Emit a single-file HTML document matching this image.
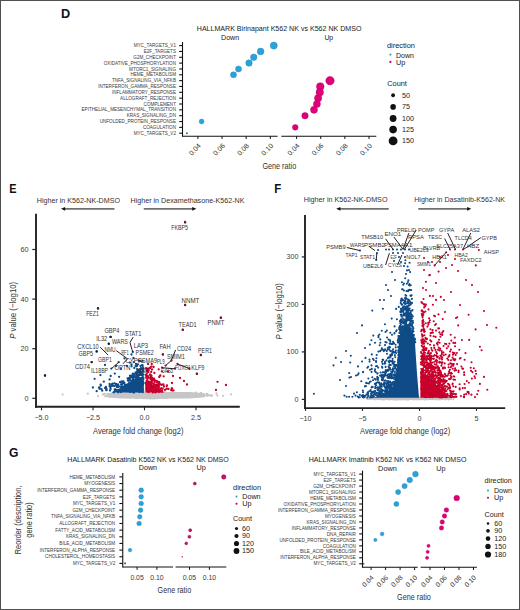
<!DOCTYPE html>
<html><head><meta charset="utf-8"><style>
html,body{margin:0;padding:0;background:#fff;overflow:hidden;width:520px;height:610px;}
svg{display:block;font-family:"Liberation Sans", sans-serif;}
</style></head><body>
<svg width="520" height="610" viewBox="0 0 520 610">
<rect x="0" y="0" width="520" height="610" fill="#fff"/>
<text x="60.90" y="18.20" font-size="12" fill="#111" textLength="9.20" lengthAdjust="spacingAndGlyphs" font-weight="bold">D</text>
<text x="9.20" y="192.60" font-size="12" fill="#111" textLength="7.30" lengthAdjust="spacingAndGlyphs" font-weight="bold">E</text>
<text x="274.20" y="192.60" font-size="12" fill="#111" textLength="7.00" lengthAdjust="spacingAndGlyphs" font-weight="bold">F</text>
<text x="9.00" y="457.20" font-size="12" fill="#111" textLength="9.40" lengthAdjust="spacingAndGlyphs" font-weight="bold">G</text>
<text x="196.80" y="30.80" font-size="7.07" fill="#1a1a1a" textLength="164.60" lengthAdjust="spacingAndGlyphs">HALLMARK Birinapant K562 NK vs K562 NK DMSO</text>
<text x="221.00" y="39.60" font-size="7.0" fill="#1a1a1a" textLength="18.20" lengthAdjust="spacingAndGlyphs">Down</text>
<text x="324.40" y="39.60" font-size="7.0" fill="#1a1a1a" textLength="8.80" lengthAdjust="spacingAndGlyphs">Up</text>
<text x="176.00" y="47.25" font-size="4.6" fill="#3a3a3a" text-anchor="end">MYC_TARGETS_V1</text>
<line x1="179.20" y1="45.60" x2="182.50" y2="45.60" stroke="#111" stroke-width="1.1"/>
<text x="176.00" y="53.09" font-size="4.6" fill="#3a3a3a" text-anchor="end">E2F_TARGETS</text>
<line x1="179.20" y1="51.44" x2="182.50" y2="51.44" stroke="#111" stroke-width="1.1"/>
<text x="176.00" y="58.93" font-size="4.6" fill="#3a3a3a" text-anchor="end">G2M_CHECKPOINT</text>
<line x1="179.20" y1="57.28" x2="182.50" y2="57.28" stroke="#111" stroke-width="1.1"/>
<text x="176.00" y="64.77" font-size="4.6" fill="#3a3a3a" text-anchor="end">OXIDATIVE_PHOSPHORYLATION</text>
<line x1="179.20" y1="63.12" x2="182.50" y2="63.12" stroke="#111" stroke-width="1.1"/>
<text x="176.00" y="70.61" font-size="4.6" fill="#3a3a3a" text-anchor="end">MTORC1_SIGNALING</text>
<line x1="179.20" y1="68.96" x2="182.50" y2="68.96" stroke="#111" stroke-width="1.1"/>
<text x="176.00" y="76.45" font-size="4.6" fill="#3a3a3a" text-anchor="end">HEME_METABOLISM</text>
<line x1="179.20" y1="74.80" x2="182.50" y2="74.80" stroke="#111" stroke-width="1.1"/>
<text x="176.00" y="82.29" font-size="4.6" fill="#3a3a3a" text-anchor="end">TNFA_SIGNALING_VIA_NFKB</text>
<line x1="179.20" y1="80.64" x2="182.50" y2="80.64" stroke="#111" stroke-width="1.1"/>
<text x="176.00" y="88.13" font-size="4.6" fill="#3a3a3a" text-anchor="end">INTERFERON_GAMMA_RESPONSE</text>
<line x1="179.20" y1="86.48" x2="182.50" y2="86.48" stroke="#111" stroke-width="1.1"/>
<text x="176.00" y="93.97" font-size="4.6" fill="#3a3a3a" text-anchor="end">INFLAMMATORY_RESPONSE</text>
<line x1="179.20" y1="92.32" x2="182.50" y2="92.32" stroke="#111" stroke-width="1.1"/>
<text x="176.00" y="99.81" font-size="4.6" fill="#3a3a3a" text-anchor="end">ALLOGRAFT_REJECTION</text>
<line x1="179.20" y1="98.16" x2="182.50" y2="98.16" stroke="#111" stroke-width="1.1"/>
<text x="176.00" y="105.65" font-size="4.6" fill="#3a3a3a" text-anchor="end">COMPLEMENT</text>
<line x1="179.20" y1="104.00" x2="182.50" y2="104.00" stroke="#111" stroke-width="1.1"/>
<text x="176.00" y="111.49" font-size="4.6" fill="#3a3a3a" text-anchor="end">EPITHELIAL_MESENCHYMAL_TRANSITION</text>
<line x1="179.20" y1="109.84" x2="182.50" y2="109.84" stroke="#111" stroke-width="1.1"/>
<text x="176.00" y="117.33" font-size="4.6" fill="#3a3a3a" text-anchor="end">KRAS_SIGNALING_DN</text>
<line x1="179.20" y1="115.68" x2="182.50" y2="115.68" stroke="#111" stroke-width="1.1"/>
<text x="176.00" y="123.17" font-size="4.6" fill="#3a3a3a" text-anchor="end">UNFOLDED_PROTEIN_RESPONSE</text>
<line x1="179.20" y1="121.52" x2="182.50" y2="121.52" stroke="#111" stroke-width="1.1"/>
<text x="176.00" y="129.01" font-size="4.6" fill="#3a3a3a" text-anchor="end">COAGULATION</text>
<line x1="179.20" y1="127.36" x2="182.50" y2="127.36" stroke="#111" stroke-width="1.1"/>
<text x="176.00" y="134.85" font-size="4.6" fill="#3a3a3a" text-anchor="end">MYC_TARGETS_V2</text>
<line x1="179.20" y1="133.20" x2="182.50" y2="133.20" stroke="#111" stroke-width="1.1"/>
<line x1="182.50" y1="42.00" x2="182.50" y2="136.75" stroke="#111" stroke-width="1.1"/>
<line x1="182.50" y1="136.20" x2="277.60" y2="136.20" stroke="#111" stroke-width="1.1"/>
<line x1="281.30" y1="136.20" x2="376.30" y2="136.20" stroke="#111" stroke-width="1.1"/>
<line x1="197.90" y1="136.20" x2="197.90" y2="139.00" stroke="#111" stroke-width="1.0"/>
<text x="201.30" y="146.30" font-size="7.0" fill="#333" text-anchor="end" transform="rotate(-45 201.30 146.30)">0.04</text>
<line x1="222.04" y1="136.20" x2="222.04" y2="139.00" stroke="#111" stroke-width="1.0"/>
<text x="225.44" y="146.30" font-size="7.0" fill="#333" text-anchor="end" transform="rotate(-45 225.44 146.30)">0.06</text>
<line x1="246.18" y1="136.20" x2="246.18" y2="139.00" stroke="#111" stroke-width="1.0"/>
<text x="249.58" y="146.30" font-size="7.0" fill="#333" text-anchor="end" transform="rotate(-45 249.58 146.30)">0.08</text>
<line x1="270.32" y1="136.20" x2="270.32" y2="139.00" stroke="#111" stroke-width="1.0"/>
<text x="273.72" y="146.30" font-size="7.0" fill="#333" text-anchor="end" transform="rotate(-45 273.72 146.30)">0.10</text>
<line x1="296.60" y1="136.20" x2="296.60" y2="139.00" stroke="#111" stroke-width="1.0"/>
<text x="300.00" y="146.30" font-size="7.0" fill="#333" text-anchor="end" transform="rotate(-45 300.00 146.30)">0.04</text>
<line x1="320.74" y1="136.20" x2="320.74" y2="139.00" stroke="#111" stroke-width="1.0"/>
<text x="324.14" y="146.30" font-size="7.0" fill="#333" text-anchor="end" transform="rotate(-45 324.14 146.30)">0.06</text>
<line x1="344.88" y1="136.20" x2="344.88" y2="139.00" stroke="#111" stroke-width="1.0"/>
<text x="348.28" y="146.30" font-size="7.0" fill="#333" text-anchor="end" transform="rotate(-45 348.28 146.30)">0.08</text>
<line x1="369.02" y1="136.20" x2="369.02" y2="139.00" stroke="#111" stroke-width="1.0"/>
<text x="372.42" y="146.30" font-size="7.0" fill="#333" text-anchor="end" transform="rotate(-45 372.42 146.30)">0.10</text>
<circle cx="273.80" cy="45.60" r="3.55" fill="#29a3dc" stroke="#1e7fae" stroke-width="0.4"/>
<circle cx="260.60" cy="51.44" r="3.35" fill="#29a3dc" stroke="#1e7fae" stroke-width="0.4"/>
<circle cx="253.75" cy="57.28" r="3.25" fill="#29a3dc" stroke="#1e7fae" stroke-width="0.4"/>
<circle cx="249.00" cy="63.12" r="3.25" fill="#29a3dc" stroke="#1e7fae" stroke-width="0.4"/>
<circle cx="238.50" cy="68.96" r="3.05" fill="#29a3dc" stroke="#1e7fae" stroke-width="0.4"/>
<circle cx="233.50" cy="74.80" r="3.05" fill="#29a3dc" stroke="#1e7fae" stroke-width="0.4"/>
<circle cx="201.60" cy="121.52" r="2.45" fill="#29a3dc" stroke="#1e7fae" stroke-width="0.4"/>
<circle cx="186.90" cy="133.20" r="1.05" fill="#3d7f86"/>
<circle cx="330.00" cy="80.64" r="4.25" fill="#e2007a" stroke="#a8005a" stroke-width="0.4"/>
<circle cx="320.25" cy="86.48" r="3.85" fill="#e2007a" stroke="#a8005a" stroke-width="0.4"/>
<circle cx="319.75" cy="92.32" r="3.75" fill="#e2007a" stroke="#a8005a" stroke-width="0.4"/>
<circle cx="318.10" cy="98.16" r="3.65" fill="#e2007a" stroke="#a8005a" stroke-width="0.4"/>
<circle cx="316.90" cy="104.00" r="3.55" fill="#e2007a" stroke="#a8005a" stroke-width="0.4"/>
<circle cx="314.00" cy="109.84" r="3.55" fill="#e2007a" stroke="#a8005a" stroke-width="0.4"/>
<circle cx="305.00" cy="115.68" r="3.25" fill="#e2007a" stroke="#a8005a" stroke-width="0.4"/>
<circle cx="295.25" cy="127.36" r="2.85" fill="#e2007a" stroke="#a8005a" stroke-width="0.4"/>
<text x="262.40" y="169.30" font-size="9.6" fill="#333" textLength="33.80" lengthAdjust="spacingAndGlyphs">Gene ratio</text>
<text x="386.90" y="47.90" font-size="7.3" fill="#1a1a1a" textLength="28.10" lengthAdjust="spacingAndGlyphs">direction</text>
<circle cx="390.40" cy="54.60" r="1.10" fill="#29a3dc"/>
<circle cx="390.40" cy="61.90" r="1.10" fill="#c0006a"/>
<text x="396.00" y="57.60" font-size="7.3" fill="#1a1a1a" textLength="18.00" lengthAdjust="spacingAndGlyphs">Down</text>
<text x="396.00" y="64.70" font-size="7.3" fill="#1a1a1a">Up</text>
<text x="387.25" y="86.00" font-size="7.3" fill="#1a1a1a" textLength="19.60" lengthAdjust="spacingAndGlyphs">Count</text>
<circle cx="393.10" cy="95.25" r="1.90" fill="#111"/>
<text x="401.90" y="97.60" font-size="7.2" fill="#1a1a1a">50</text>
<circle cx="393.10" cy="106.90" r="2.80" fill="#111"/>
<text x="401.90" y="109.40" font-size="7.2" fill="#1a1a1a">75</text>
<circle cx="393.10" cy="118.50" r="3.40" fill="#111"/>
<text x="401.90" y="121.20" font-size="7.2" fill="#1a1a1a">100</text>
<circle cx="393.10" cy="129.60" r="3.80" fill="#111"/>
<text x="401.90" y="132.40" font-size="7.2" fill="#1a1a1a">125</text>
<circle cx="393.10" cy="140.90" r="4.40" fill="#111"/>
<text x="401.90" y="143.40" font-size="7.2" fill="#1a1a1a">150</text>
<text x="36.75" y="202.50" font-size="7.1" fill="#333" textLength="83.25" lengthAdjust="spacingAndGlyphs">Higher in K562-NK-DMSO</text>
<text x="130.50" y="202.50" font-size="7.1" fill="#333" textLength="114.00" lengthAdjust="spacingAndGlyphs">Higher in Dexamethasone-K562-NK</text>
<line x1="114.50" y1="208.80" x2="64.50" y2="208.80" stroke="#707070" stroke-width="1.8"/>
<path d="M61.00 208.80L65.20 206.90L65.20 210.70Z" fill="#111"/>
<line x1="143.75" y1="208.80" x2="192.90" y2="208.80" stroke="#707070" stroke-width="1.8"/>
<path d="M196.40 208.80L192.20 206.90L192.20 210.70Z" fill="#111"/>
<path d="M108.0 393.2L120.0 392.0L190.0 392.0L205.0 393.3L205.0 397.3L190.0 398.4L120.0 398.4L108.0 397.3Z" fill="#c6c6c8"/>
<path d="M123.1 397.0h0M158.3 395.0h0M120.8 393.9h0M148.6 395.3h0M123.3 393.5h0M121.6 394.4h0M183.7 395.9h0M171.6 393.0h0M206.6 395.5h0M143.6 395.9h0M152.1 395.4h0M153.2 392.4h0M156.0 392.3h0M165.2 395.0h0M110.6 395.3h0M165.4 395.9h0M117.6 395.0h0M150.0 393.7h0M148.9 397.4h0M145.0 393.5h0M131.5 394.2h0M183.9 394.8h0M166.0 397.0h0M108.1 396.2h0M186.2 393.5h0M162.1 395.0h0M196.8 396.4h0M143.2 396.0h0M155.1 396.9h0M148.8 394.1h0M159.3 397.9h0M150.6 393.5h0M139.0 393.0h0M186.5 394.1h0M164.4 395.5h0M136.5 396.5h0M154.6 392.9h0M143.2 394.7h0M141.4 393.5h0M142.7 397.0h0M208.1 394.9h0M161.3 394.6h0M140.0 397.2h0M143.6 398.2h0M142.1 393.5h0M148.0 394.1h0M187.8 394.5h0M158.6 395.7h0M154.3 393.6h0M132.9 395.0h0M137.4 397.7h0M121.4 396.7h0M152.9 393.2h0M177.3 396.5h0M189.6 394.4h0M163.3 397.6h0M183.5 394.1h0M193.3 395.5h0M136.0 394.8h0M154.9 398.1h0M153.8 393.6h0M145.2 397.2h0M133.7 395.7h0M146.3 396.6h0M163.2 392.9h0M153.8 397.4h0M177.9 395.7h0M140.7 393.5h0M198.2 394.1h0M147.1 392.4h0M173.7 393.7h0M130.5 393.4h0M171.0 394.5h0M197.8 395.6h0M110.9 395.8h0M139.6 392.6h0M143.9 392.3h0M178.9 397.1h0M131.7 392.8h0M133.4 396.4h0M130.9 394.3h0M158.7 395.5h0M150.0 396.8h0M179.1 396.0h0M128.9 396.6h0M167.6 396.1h0M139.6 397.5h0M165.8 396.7h0M133.4 397.1h0M122.4 394.7h0M136.4 395.6h0M143.0 396.0h0M144.3 398.2h0M175.9 394.7h0M125.7 396.2h0M129.3 396.8h0M138.5 392.9h0M150.0 395.9h0M144.6 395.1h0M154.2 395.2h0M183.8 395.6h0M164.8 392.6h0M141.9 394.0h0M143.5 393.2h0M136.7 397.4h0M137.3 397.3h0M129.9 394.4h0M142.6 394.8h0M137.4 396.9h0M188.9 394.8h0M126.7 395.6h0M145.2 395.2h0M160.9 397.1h0M170.2 397.4h0M121.8 394.3h0M161.7 393.9h0M171.0 393.8h0M123.6 395.2h0M165.9 394.2h0M183.1 395.0h0M155.0 397.5h0M152.5 392.3h0M142.6 394.1h0M122.4 396.4h0M161.8 394.9h0M151.4 392.1h0M157.8 393.1h0M135.8 392.8h0M133.5 395.9h0M132.6 396.0h0M169.6 396.1h0M157.8 393.3h0M173.7 393.0h0M115.7 394.1h0M156.1 393.8h0M130.8 395.3h0M178.0 395.7h0M150.9 397.1h0M128.0 397.1h0M193.6 395.8h0M176.6 393.6h0M120.5 396.8h0M158.9 394.5h0M108.9 396.1h0M131.0 397.4h0M118.9 394.1h0M157.2 396.5h0M163.1 396.4h0M121.3 394.0h0M199.9 396.3h0M113.7 395.3h0M154.9 397.7h0M131.3 397.0h0M144.7 394.8h0M157.4 395.5h0M152.9 392.2h0M124.7 396.6h0M186.3 394.1h0M165.5 394.3h0M152.9 393.0h0M138.2 395.3h0M143.0 396.3h0M108.5 396.5h0M152.5 392.6h0M154.8 393.9h0M176.5 396.2h0M132.8 396.9h0M129.5 395.5h0M141.9 397.2h0M170.0 397.1h0M161.1 397.8h0M191.4 395.3h0M136.8 395.4h0M143.5 395.2h0M145.9 398.1h0M146.8 395.3h0M117.9 395.4h0M173.1 395.2h0M147.1 395.4h0M142.4 394.7h0M198.1 394.7h0M136.6 395.1h0M166.4 396.8h0M166.8 397.3h0M131.0 393.7h0M152.8 395.9h0M160.3 396.8h0M144.8 392.3h0M155.4 396.3h0M164.8 394.3h0M131.2 393.2h0M174.1 396.2h0M168.9 394.0h0M168.3 393.7h0M126.9 394.6h0M145.5 394.7h0M137.2 393.6h0M147.6 396.0h0M132.6 397.0h0M129.3 395.7h0M160.0 396.6h0M137.5 396.9h0M165.7 394.2h0M139.0 397.6h0M165.7 397.2h0M160.8 396.5h0M162.1 393.9h0M184.1 394.9h0M173.8 396.5h0M165.7 396.2h0M165.9 392.7h0M160.1 397.5h0M181.7 397.0h0M169.5 396.5h0M167.3 395.2h0M144.4 392.6h0M136.9 393.1h0M177.1 395.3h0M156.5 395.6h0M158.5 393.5h0M161.2 397.1h0M200.2 394.3h0M146.9 392.4h0M173.4 396.4h0M142.6 394.2h0M124.1 394.9h0M155.5 395.8h0M184.1 396.4h0M152.8 393.2h0M115.4 394.9h0M160.3 393.5h0M163.4 392.6h0M172.7 397.0h0M161.0 397.2h0M117.4 395.7h0M125.4 395.2h0M166.8 397.7h0M155.7 397.7h0M134.0 396.5h0M157.1 394.6h0M110.2 396.4h0M174.7 396.4h0M126.8 396.4h0M120.8 393.5h0M169.7 394.4h0M146.9 394.3h0M150.6 396.1h0M138.6 397.7h0M138.8 396.1h0M133.1 395.6h0M177.5 395.3h0M210.0 395.4h0M138.8 397.9h0M114.5 393.5h0M123.0 394.2h0M126.1 394.8h0M163.8 394.5h0M154.5 392.7h0M149.7 395.5h0M197.8 395.2h0M177.9 397.3h0M144.2 396.0h0M153.2 395.8h0M141.8 396.7h0M198.7 394.4h0M164.2 395.0h0M162.5 395.8h0M172.5 393.2h0M171.6 395.3h0M142.3 395.8h0M138.0 396.1h0M163.5 395.5h0M142.7 394.0h0M184.2 393.5h0M150.2 392.9h0M156.5 396.7h0M113.8 396.0h0M179.9 393.4h0M202.8 394.4h0M146.3 397.7h0M127.3 397.4h0M160.7 393.8h0M142.4 396.5h0M162.1 397.0h0M141.3 395.9h0M143.4 394.9h0M152.1 395.4h0M156.9 392.9h0M119.4 395.0h0M161.5 393.9h0M130.0 396.5h0M138.7 395.4h0M204.3 395.6h0M149.2 393.5h0M185.1 396.2h0M180.5 395.7h0M138.9 396.2h0M163.5 395.6h0M123.9 396.3h0M133.0 393.6h0M150.4 397.9h0M211.4 395.8h0M157.6 393.8h0M151.9 394.7h0M142.7 395.4h0M142.8 392.6h0M178.3 395.4h0M167.1 395.9h0M132.5 393.7h0M168.0 394.4h0M148.6 392.4h0M108.0 394.1h0M161.2 396.7h0M121.3 394.0h0M134.9 396.8h0M157.8 394.4h0M112.3 394.6h0M115.3 396.7h0M139.0 394.8h0M143.2 397.5h0M157.3 392.7h0M174.6 395.1h0M164.1 396.2h0M138.5 392.8h0M186.2 394.2h0M145.2 394.0h0M142.3 396.5h0M143.8 393.0h0M133.2 394.5h0M146.8 392.8h0M129.2 396.2h0M105.3 396.4h0M129.2 397.2h0M113.3 394.5h0M165.1 394.2h0M108.5 396.4h0M180.3 394.2h0M136.5 394.5h0M166.0 394.7h0M139.0 395.6h0M159.4 396.9h0M109.5 395.4h0M139.4 393.4h0M152.6 393.8h0M104.7 394.0h0M122.6 395.5h0M147.3 398.2h0M126.9 393.2h0M117.7 395.4h0M152.2 392.5h0M141.0 396.6h0M157.5 396.0h0M144.5 393.0h0M149.2 393.5h0M118.2 394.1h0M152.6 396.9h0M123.4 394.8h0M119.7 395.9h0M199.2 395.2h0M115.8 395.9h0M141.8 397.6h0M115.2 395.8h0M171.9 396.9h0M164.3 397.3h0M110.9 396.6h0M133.0 396.3h0M129.3 396.6h0M129.8 393.5h0M160.9 396.6h0M171.3 393.6h0M148.8 393.3h0M133.7 397.6h0M158.3 392.6h0M146.1 396.1h0M160.1 396.8h0M153.4 394.9h0M157.1 395.7h0M155.0 392.8h0M146.8 393.2h0M153.3 396.6h0M165.8 395.7h0M152.3 393.8h0M163.9 393.4h0M150.9 395.5h0M131.0 396.8h0M133.1 397.2h0M152.2 397.9h0M134.9 397.6h0M173.2 395.1h0M151.3 398.1h0M156.9 397.0h0M129.8 395.3h0M167.8 394.1h0M182.1 394.2h0M148.0 392.1h0M129.1 396.6h0M153.6 396.5h0M139.9 393.2h0M142.0 394.1h0M147.4 395.3h0M194.3 395.6h0M167.3 395.4h0M149.3 392.9h0M150.1 397.3h0M148.9 397.5h0M154.0 393.8h0M141.8 396.5h0M170.6 395.1h0M164.4 397.6h0M112.9 394.5h0M127.5 396.5h0M107.5 394.0h0M174.4 396.7h0M157.1 395.4h0M176.6 393.7h0M159.4 394.1h0M133.5 393.0h0M141.5 396.5h0M173.2 394.6h0M146.0 394.5h0M140.4 395.0h0M190.5 395.7h0M141.5 392.3h0M125.2 394.0h0M174.1 395.5h0M146.9 398.3h0M150.8 397.2h0M158.2 394.0h0M179.3 394.7h0M132.1 394.4h0M145.4 394.5h0M141.5 393.4h0M135.3 396.4h0M124.6 395.5h0M196.5 395.8h0M129.8 393.2h0M185.9 394.0h0M177.5 396.1h0M168.5 393.6h0M115.8 395.5h0M174.1 393.4h0M151.9 392.8h0M162.7 394.7h0M194.4 395.0h0M171.8 395.3h0M127.4 396.7h0M120.0 394.7h0M138.9 392.5h0M169.8 394.7h0M130.7 396.6h0M133.9 392.7h0M124.5 394.5h0M132.5 393.2h0M176.7 394.7h0M111.3 396.2h0M147.7 395.9h0M170.4 397.1h0M181.5 395.4h0M134.4 393.3h0M170.7 396.2h0M176.4 396.1h0M147.8 397.3h0M167.3 395.8h0M200.1 394.5h0M164.3 395.6h0M158.2 396.4h0M125.8 394.6h0M194.5 395.1h0M192.2 394.1h0M191.7 396.4h0M122.8 395.5h0M142.4 393.8h0M207.7 395.7h0M113.1 395.5h0M179.5 394.4h0M178.6 396.8h0M151.6 397.3h0M178.7 393.9h0M141.6 392.5h0M147.4 393.2h0M201.9 395.5h0M145.8 394.0h0M132.9 394.6h0M118.3 395.6h0M151.3 393.3h0M146.2 395.0h0M163.5 395.6h0M167.0 393.5h0M132.9 395.5h0M147.9 394.1h0M146.2 396.3h0M145.2 393.0h0M178.8 395.1h0M142.5 394.7h0M126.0 396.4h0M126.4 396.3h0M156.3 397.2h0M163.8 394.8h0M132.2 395.5h0M172.3 395.3h0M134.9 394.8h0M166.0 392.9h0M139.1 396.5h0M178.9 395.6h0M129.0 396.4h0M140.0 392.7h0M177.8 393.6h0M125.4 394.7h0M158.5 392.6h0M140.9 393.7h0M124.7 394.4h0M137.2 392.8h0M159.8 397.6h0M181.8 396.6h0M143.2 394.7h0M155.3 396.7h0M135.4 395.6h0M158.2 396.9h0M144.3 392.9h0M137.4 392.5h0M150.7 394.1h0M168.5 393.0h0M182.0 394.8h0M125.2 394.6h0M144.2 392.3h0M146.5 397.7h0M140.8 397.7h0M174.2 397.3h0M135.3 394.1h0M152.6 397.9h0M161.6 397.1h0M141.2 394.3h0M136.7 397.3h0M152.3 398.4h0M159.2 393.4h0M179.7 396.7h0M159.9 396.5h0M153.2 394.0h0M186.0 395.9h0M124.0 393.6h0M132.7 394.9h0M163.8 394.2h0M157.4 396.5h0M154.6 393.6h0M163.1 396.1h0M155.3 396.2h0M129.4 397.0h0M136.6 394.1h0M141.5 397.7h0M141.2 396.0h0M134.6 393.0h0M173.6 395.3h0M147.5 395.4h0M178.6 394.3h0M158.4 393.7h0M153.1 393.8h0M141.1 396.7h0M150.5 395.5h0M167.8 393.6h0M202.1 394.3h0M110.7 395.1h0M150.1 398.0h0M128.3 395.2h0M162.0 396.0h0M175.4 394.6h0M129.0 395.3h0M117.8 395.2h0M168.8 395.3h0M122.4 397.1h0M167.6 393.5h0M184.0 395.6h0M152.2 396.9h0M173.6 396.5h0M154.1 395.1h0M134.4 393.7h0M127.3 393.1h0M137.5 395.7h0M143.7 397.5h0M122.0 393.9h0M152.4 395.2h0M153.4 394.8h0M134.0 396.7h0M156.2 392.6h0M173.8 395.4h0M134.3 396.7h0M150.9 394.0h0M162.3 392.7h0M137.9 395.3h0M178.2 394.2h0M142.0 397.1h0M145.0 393.2h0M149.6 396.5h0M163.0 397.0h0M151.8 394.6h0M142.4 394.4h0M162.3 392.7h0M207.1 395.2h0M154.6 393.0h0M115.1 393.6h0M160.1 393.7h0M159.4 394.6h0M142.3 394.0h0M142.2 392.4h0M154.0 398.3h0M153.0 393.5h0M114.3 394.3h0M134.5 395.0h0M144.8 397.9h0M136.9 397.8h0M165.0 395.8h0M171.7 395.9h0M155.5 392.5h0M131.3 397.0h0M178.2 395.6h0M168.5 394.7h0M133.9 397.0h0M121.8 394.0h0M176.1 394.5h0M161.3 393.3h0M175.4 393.9h0M155.5 394.0h0M174.1 395.0h0M183.1 396.5h0M148.6 393.3h0M143.7 396.4h0M155.7 394.4h0M149.3 393.1h0M154.2 393.7h0M111.0 395.9h0M181.1 394.3h0M141.8 397.8h0M159.7 394.4h0M153.5 397.8h0M114.9 393.5h0M140.5 392.8h0M169.5 397.1h0M132.8 395.3h0M183.6 393.6h0M137.2 392.7h0M160.0 393.2h0M145.4 394.0h0M146.8 394.7h0M138.6 396.4h0M146.8 393.7h0M145.0 393.0h0M117.8 394.1h0M143.4 394.6h0M184.1 394.8h0M160.5 394.0h0M138.3 394.3h0M151.4 392.1h0M156.2 396.0h0M113.4 396.8h0M133.9 394.2h0M126.4 393.9h0M106.7 395.7h0M122.6 396.7h0M153.0 392.6h0M181.0 394.9h0M144.0 394.5h0M154.8 394.1h0M132.2 393.5h0M150.3 394.6h0M136.9 396.1h0M152.1 393.5h0M166.8 394.8h0M161.1 393.2h0M120.3 395.4h0M133.0 396.2h0M171.7 394.6h0M153.2 392.4h0M143.9 395.2h0M154.2 395.7h0M130.8 394.0h0M153.8 392.2h0M123.4 395.5h0M188.0 394.4h0M143.0 395.0h0M137.7 395.8h0M170.0 395.6h0M144.1 397.9h0M154.2 396.0h0M119.4 394.9h0M134.7 396.9h0M158.9 397.4h0M114.5 393.6h0M182.6 393.8h0M131.1 394.5h0M149.2 398.3h0M158.5 393.6h0M161.6 396.2h0M150.1 395.5h0M150.9 394.5h0M151.7 396.2h0M175.6 395.4h0M130.0 396.8h0M130.1 397.5h0M139.8 397.4h0M167.6 394.3h0M142.8 396.3h0M116.9 396.9h0M155.8 395.9h0M138.4 395.1h0M130.5 394.2h0M141.8 396.7h0M134.2 393.9h0M146.6 394.1h0M161.6 393.1h0M173.7 393.2h0M159.3 396.4h0M154.3 392.8h0M113.9 395.1h0M161.3 393.3h0M179.6 393.4h0M116.9 394.3h0M110.8 394.9h0M148.2 396.6h0M149.6 394.1h0M184.9 394.6h0M152.5 397.3h0M107.8 395.4h0M119.7 395.7h0M166.5 396.9h0M153.6 394.4h0M139.2 396.2h0M151.7 392.1h0M164.0 395.7h0M204.4 394.5h0M128.9 396.1h0M122.8 394.8h0M165.1 397.5h0M156.9 396.5h0M149.5 392.7h0M167.4 396.4h0M154.8 398.3h0M164.3 392.7h0M163.5 395.4h0M128.8 394.3h0M152.3 397.1h0M159.5 394.6h0M134.7 395.8h0M156.0 394.5h0M140.5 396.9h0M124.0 393.7h0M154.7 397.9h0M159.3 393.8h0M138.9 394.2h0M150.8 392.1h0M138.8 395.9h0M145.1 393.8h0M153.5 394.4h0M175.0 394.1h0M157.6 397.5h0M152.5 394.0h0M162.3 395.1h0M156.6 398.2h0M163.1 395.1h0M192.2 395.0h0M157.7 392.6h0M129.3 395.4h0M133.0 394.1h0M124.4 397.1h0M196.6 395.1h0M167.7 393.6h0M119.4 393.3h0M155.4 392.6h0M159.7 394.4h0M150.4 395.3h0M131.1 392.8h0M163.8 392.6h0M203.9 395.3h0M164.4 396.5h0M113.7 394.9h0M163.5 396.6h0M111.0 396.7h0M193.5 394.9h0M181.9 396.0h0M149.9 392.1h0M198.2 395.4h0M153.1 394.4h0M171.6 395.9h0M157.8 396.0h0M130.6 394.5h0M141.3 394.2h0M196.9 394.2h0M131.6 393.8h0M181.2 396.1h0M118.2 394.0h0M140.5 392.9h0M162.7 394.8h0M166.0 392.7h0M127.6 394.4h0M149.6 395.4h0M164.2 397.2h0M145.6 394.1h0M150.3 398.4h0M139.5 394.8h0M165.1 394.7h0M146.4 396.5h0M157.7 396.2h0M165.8 397.5h0M143.9 394.3h0M162.6 397.9h0M168.6 394.6h0M175.0 395.8h0M157.1 397.5h0M179.6 396.6h0M132.0 395.5h0M131.1 393.3h0M167.6 395.0h0M121.3 395.9h0M131.0 393.9h0M160.5 395.8h0M126.2 393.1h0M138.3 395.9h0M122.1 395.6h0M159.7 397.7h0M164.3 397.8h0M170.2 396.3h0M136.1 397.8h0M183.2 394.8h0M157.7 398.1h0M141.5 395.1h0M154.2 396.1h0M191.9 396.5h0M168.8 395.3h0M115.5 397.0h0M190.8 395.8h0M167.6 393.9h0M158.5 395.4h0M127.3 396.9h0M155.9 396.1h0M166.8 393.0h0M113.6 395.2h0M136.9 393.8h0M163.4 396.7h0M108.9 395.3h0M182.6 393.9h0M128.1 394.6h0M154.9 394.2h0M153.6 397.5h0M155.5 393.3h0M140.5 394.6h0M167.8 397.2h0M125.2 393.3h0M164.9 395.9h0M148.9 397.6h0M148.0 396.3h0M135.6 394.8h0M169.9 394.3h0M151.9 396.0h0M144.7 396.4h0M179.4 393.9h0M173.5 395.0h0M174.4 393.5h0M189.0 395.5h0M184.9 394.7h0M173.7 396.1h0M217.4 395.6h0M137.9 394.7h0M164.6 393.3h0M134.3 396.9h0M133.0 394.7h0M124.8 397.1h0M157.0 394.3h0M145.4 395.7h0M134.6 394.1h0M162.6 397.1h0M137.0 396.2h0M164.3 394.6h0M148.7 394.9h0M120.2 393.5h0M134.4 394.9h0M158.7 397.9h0M141.0 396.2h0M182.7 394.2h0M140.0 397.5h0M156.2 393.7h0M132.3 396.8h0M159.6 397.2h0M126.7 393.4h0M135.1 397.3h0M62.6 394.6h0M87.8 393.7h0M98.0 396.1h0M103.0 394.5h0M207.0 394.0h0M212.0 395.5h0M216.5 393.5h0M223.0 395.8h0M231.0 394.3h0M201.0 393.0h0M196.0 392.6h0" stroke="#c6c6c8" stroke-width="2.30" stroke-linecap="round" fill="none"/>
<path d="M111.0 392.5L118.0 389.5L125.0 385.5L131.0 381.5L136.0 378.5L140.0 377.0L143.8 377.5L143.8 392.5Z" fill="#0f4b87"/>
<path d="M123.3 388.2h0M132.9 382.3h0M140.5 391.7h0M133.0 386.4h0M142.8 392.1h0M143.6 383.1h0M138.2 387.1h0M134.0 392.5h0M124.2 387.2h0M118.2 392.3h0M131.4 388.5h0M119.3 389.6h0M135.0 389.0h0M142.0 390.9h0M128.6 385.3h0M136.5 380.8h0M129.3 384.1h0M138.9 378.6h0M138.9 379.4h0M142.8 385.1h0M124.3 386.5h0M139.3 391.9h0M135.1 388.0h0M120.9 392.0h0M132.1 390.1h0M114.7 391.2h0M132.5 390.7h0M142.0 385.8h0M127.4 391.0h0M135.2 381.0h0M129.0 383.2h0M135.6 384.6h0M130.5 391.9h0M131.0 386.1h0M127.9 388.7h0M137.1 383.6h0M139.2 383.2h0M113.8 392.3h0M138.3 382.1h0M121.4 389.7h0M136.9 387.0h0M129.1 391.4h0M141.6 388.7h0M135.2 383.5h0M133.3 392.2h0M141.1 378.2h0M136.6 383.8h0M135.7 382.9h0M132.9 385.5h0M121.2 391.8h0M129.4 391.3h0M128.6 390.0h0M133.1 391.4h0M127.2 387.7h0M123.7 389.1h0M130.4 385.1h0M138.6 382.6h0M130.1 384.4h0M143.2 382.1h0M133.9 380.6h0M141.6 380.3h0M116.0 384.8h0M114.3 386.1h0M131.0 386.7h0M122.0 386.5h0M133.8 390.6h0M127.7 384.4h0M133.4 378.1h0M143.3 371.7h0M135.6 388.2h0M117.8 387.2h0M137.7 381.7h0M138.6 389.9h0M135.1 386.7h0M140.9 385.7h0M136.3 375.9h0M136.9 383.2h0M123.5 381.4h0M141.4 388.5h0M121.1 390.2h0M137.5 390.0h0M128.5 387.2h0M135.0 386.1h0M111.0 385.7h0M143.5 378.1h0M140.1 373.6h0M140.0 370.7h0M131.0 383.3h0M141.5 372.8h0M129.7 384.1h0M136.5 388.3h0M136.3 388.2h0M127.0 387.7h0M130.0 384.3h0M123.1 388.6h0M111.3 385.7h0M105.9 387.0h0M130.1 387.9h0M141.6 375.1h0M124.9 387.9h0M124.6 386.1h0M136.5 378.3h0M138.9 371.5h0M102.2 390.7h0M139.9 388.7h0M138.0 372.1h0M135.6 390.8h0M140.1 374.9h0M139.3 383.5h0M139.1 370.2h0M121.8 390.8h0M139.4 383.9h0M125.2 385.4h0M120.0 382.2h0M132.8 383.3h0M141.7 374.6h0M132.2 386.3h0M143.4 374.7h0M136.6 380.9h0M142.9 379.0h0M122.0 382.1h0M139.8 374.9h0M129.9 390.1h0M120.8 390.8h0M106.7 390.1h0M131.5 390.0h0M123.9 386.5h0M141.0 383.3h0M125.7 390.2h0M128.3 378.9h0M100.8 385.5h0M138.3 372.0h0M114.5 383.3h0M112.2 383.8h0M131.0 383.8h0M120.7 386.9h0M142.1 365.1h0M112.7 384.0h0M130.8 388.5h0M99.0 387.7h0M135.5 372.7h0M130.0 387.7h0M141.8 378.9h0M121.0 384.4h0M135.0 377.1h0M126.8 389.5h0M139.1 374.4h0M134.8 381.6h0M140.3 373.0h0M128.5 386.4h0M142.2 371.6h0M122.9 389.7h0M138.6 375.9h0M132.2 380.4h0M139.7 386.2h0M118.3 386.9h0M118.1 384.3h0M129.8 379.9h0M99.3 387.5h0M117.1 385.5h0M99.5 387.6h0M116.0 383.8h0M136.2 378.3h0M114.7 389.3h0M133.3 384.2h0M133.9 386.6h0M112.5 383.7h0M138.8 380.1h0M138.9 389.1h0M139.2 371.8h0M133.9 390.3h0M110.0 390.5h0M122.1 382.2h0M110.6 389.0h0M133.0 376.8h0M139.8 383.6h0M123.3 390.5h0M125.1 384.7h0M137.5 376.1h0M137.3 389.8h0M133.7 379.9h0M138.8 370.2h0M139.7 370.9h0M133.4 383.1h0M122.2 388.5h0M138.0 381.1h0M136.9 375.6h0M141.2 368.1h0M133.0 389.8h0M116.7 386.8h0M135.4 383.0h0M130.6 380.6h0M131.4 382.8h0M99.5 388.8h0M132.7 377.9h0M127.8 390.3h0M139.8 385.5h0M143.0 374.7h0M133.9 376.8h0M140.3 384.8h0M142.7 370.1h0M140.2 386.3h0M118.8 386.1h0M143.4 368.3h0M129.1 377.8h0M142.1 371.8h0M131.5 382.9h0M132.4 385.0h0M137.0 388.7h0M128.9 385.3h0M125.1 384.7h0M132.9 380.0h0M132.9 390.0h0M137.1 388.0h0M136.0 381.6h0M136.7 390.7h0M141.0 384.2h0M133.4 378.2h0M134.9 390.1h0M138.5 375.6h0M122.2 384.2h0M128.7 385.1h0M105.1 388.0h0M142.8 374.2h0M123.6 383.0h0M143.3 379.2h0M130.7 377.5h0M129.5 383.9h0M119.3 390.7h0M140.7 373.6h0M136.8 387.0h0M141.0 372.2h0M129.0 380.8h0M116.8 390.2h0M125.6 385.7h0M143.1 389.5h0M124.0 383.1h0M142.3 386.8h0M127.9 380.5h0M143.2 369.4h0M128.0 390.7h0M117.0 390.3h0M131.5 386.6h0M115.6 389.4h0M140.1 386.7h0M133.5 379.3h0M142.1 365.6h0M105.4 388.0h0M126.9 386.1h0M118.4 390.2h0M121.2 381.7h0M133.4 385.4h0M106.2 390.2h0M112.9 385.8h0M133.2 387.0h0M119.4 390.9h0M137.2 385.5h0M137.4 371.8h0M123.9 388.6h0M122.0 389.7h0M106.5 388.7h0M126.3 384.8h0M131.6 375.9h0M133.0 377.2h0M140.0 382.9h0M131.7 387.5h0M136.5 377.7h0M124.3 382.8h0M134.1 385.6h0M120.8 390.4h0M124.6 390.0h0M109.5 386.1h0M120.9 390.6h0M136.5 386.6h0M136.6 381.6h0M131.6 383.1h0M110.5 387.7h0M136.0 381.0h0M143.1 369.1h0M130.6 384.8h0M142.7 366.1h0M128.4 378.4h0M130.7 390.2h0M127.1 386.5h0M128.6 380.7h0M134.6 381.7h0M135.1 380.7h0M141.3 383.2h0M141.8 381.8h0M121.9 390.4h0M137.9 370.8h0M139.6 379.9h0M137.8 375.3h0M142.5 361.1h0M136.8 365.5h0M134.3 374.4h0M142.4 375.3h0M135.7 373.0h0M140.8 368.6h0M133.9 362.1h0M121.4 384.4h0M140.0 361.1h0M137.1 373.9h0M140.4 368.8h0M136.9 371.5h0M136.7 374.9h0M132.8 373.6h0M136.0 372.3h0M129.9 362.6h0M139.4 361.1h0M141.9 361.5h0M143.2 367.8h0M139.3 379.1h0M142.7 377.0h0M131.6 366.3h0M142.5 379.7h0M137.9 364.4h0M138.3 377.3h0M134.3 368.0h0M143.0 377.7h0M142.8 374.2h0M127.6 378.3h0M137.1 369.1h0M136.3 366.3h0M136.9 366.1h0M137.0 375.5h0M133.7 377.6h0M140.7 369.1h0M129.8 379.5h0M130.0 375.7h0M132.6 374.8h0M135.7 365.9h0M139.9 373.1h0M121.8 381.4h0M131.5 364.5h0M138.3 375.4h0M119.1 376.8h0M137.4 374.2h0M134.2 375.3h0M142.5 365.2h0M96.7 351.4h0M91.7 362.1h0M100.4 375.1h0M94.6 378.8h0M92.9 387.5h0M96.7 391.2h0M100.6 384.6h0M103.8 381.7h0M109.6 384.0h0M110.7 376.0h0M114.8 373.6h0M109.6 379.4h0M101.5 389.2h0M105.6 388.0h0M45.0 375.5h0M110.6 336.9h0M108.8 343.8h0M98.0 308.2h0M132.8 351.9h0M131.5 354.5h0M124.5 358.4h0M118.7 362.2h0M111.3 368.6h0M133.5 358.0h0M138.5 360.5h0M136.0 364.0h0M140.5 366.0h0M127.0 366.0h0M121.0 369.0h0M116.0 366.0h0M105.0 365.0h0" stroke="#0f4b87" stroke-width="2.30" stroke-linecap="round" fill="none"/>
<path d="M145.5 392.5L145.5 381.0L147.5 380.5L150.0 384.5L154.0 388.0L160.0 390.5L164.0 392.0L164.0 392.5Z" fill="#c8002c"/>
<path d="M152.9 392.4h0M149.1 391.5h0M146.6 387.5h0M152.7 387.6h0M150.2 389.0h0M158.9 391.9h0M150.6 387.3h0M148.6 388.0h0M150.8 390.2h0M155.3 392.4h0M156.0 391.9h0M152.0 389.6h0M146.9 384.1h0M152.4 388.4h0M148.2 384.2h0M161.6 391.7h0M147.7 381.5h0M150.4 386.4h0M160.6 390.8h0M149.4 388.9h0M153.7 390.2h0M149.6 387.9h0M148.3 392.1h0M153.5 390.4h0M148.7 384.8h0M149.7 384.9h0M149.7 389.1h0M146.4 388.8h0M146.7 390.6h0M147.3 381.0h0M166.7 388.7h0M173.5 390.4h0M150.9 375.2h0M147.9 384.9h0M150.1 385.3h0M154.4 387.2h0M151.7 380.2h0M157.9 386.7h0M152.8 380.4h0M154.7 382.3h0M145.9 374.9h0M148.0 382.8h0M146.5 387.5h0M151.6 382.9h0M156.1 389.7h0M146.6 385.5h0M158.4 388.1h0M158.1 386.1h0M156.0 385.4h0M152.0 383.1h0M160.4 389.2h0M148.5 388.9h0M146.2 375.0h0M148.3 372.1h0M150.6 379.2h0M161.8 384.8h0M161.3 388.5h0M162.6 388.7h0M146.3 377.2h0M159.0 386.9h0M172.8 390.6h0M171.1 390.2h0M153.9 390.6h0M149.9 383.1h0M156.1 389.5h0M146.8 380.4h0M150.5 390.9h0M146.1 368.2h0M152.9 386.0h0M155.4 380.6h0M172.1 388.5h0M156.7 388.4h0M159.1 383.4h0M154.5 384.3h0M160.4 384.4h0M156.3 384.9h0M156.3 386.3h0M148.7 384.0h0M154.2 386.6h0M146.7 373.7h0M164.0 386.5h0M154.8 390.5h0M151.0 385.2h0M147.8 376.0h0M153.4 387.7h0M163.5 384.4h0M166.8 386.0h0M150.4 377.6h0M152.8 383.6h0M147.1 390.1h0M149.8 388.0h0M154.2 380.6h0M156.8 390.3h0M158.2 381.8h0M156.7 389.1h0M150.4 378.4h0M147.5 380.5h0M153.3 390.6h0M146.4 389.1h0M155.5 387.2h0M152.9 380.3h0M148.9 377.7h0M156.2 390.8h0M161.2 388.4h0M154.0 387.3h0M154.3 384.6h0M158.8 385.3h0M150.9 383.4h0M148.5 390.7h0M146.7 377.1h0M149.1 383.5h0M151.8 389.7h0M151.8 383.4h0M158.6 388.8h0M153.9 380.5h0M149.3 386.0h0M167.0 385.5h0M157.1 382.5h0M168.5 389.0h0M150.4 386.8h0M147.1 370.7h0M165.0 389.9h0M150.1 374.5h0M151.5 376.0h0M154.2 379.4h0M154.0 378.7h0M155.1 390.0h0M159.2 382.2h0M153.3 380.0h0M152.2 378.0h0M151.0 377.7h0M162.1 384.7h0M157.2 382.2h0M148.4 382.6h0M157.7 385.7h0M146.4 369.3h0M151.7 380.9h0M151.0 375.1h0M158.0 385.0h0M156.2 385.9h0M151.7 381.6h0M148.2 385.2h0M158.8 390.1h0M159.3 382.4h0M147.9 386.0h0M155.6 388.5h0M154.3 380.7h0M171.7 388.3h0M158.1 382.3h0M162.1 390.8h0M146.6 371.2h0M159.8 376.1h0M160.3 375.5h0M149.6 381.8h0M159.2 377.1h0M145.9 383.2h0M150.2 375.3h0M151.4 366.6h0M146.3 376.6h0M148.3 369.6h0M150.0 367.8h0M154.4 373.0h0M158.7 369.3h0M161.9 371.3h0M147.4 381.0h0M150.1 368.0h0M151.8 364.0h0M148.0 364.0h0M152.0 369.5h0M145.9 383.8h0M147.5 378.3h0M147.8 368.6h0M156.9 381.1h0M147.1 382.7h0M151.2 371.9h0M148.7 370.3h0M146.2 377.7h0M153.6 367.0h0M149.5 368.1h0M163.7 376.3h0M185.0 222.0h0M185.1 305.0h0M220.9 317.7h0M182.8 329.8h0M200.9 355.0h0M196.9 373.8h0M162.9 354.4h0M217.5 381.8h0M226.0 385.0h0M216.0 390.0h0M175.0 368.5h0M171.5 360.5h0M165.6 365.6h0M162.0 367.7h0M177.5 364.0h0M189.4 368.5h0M168.0 371.5h0M173.0 376.0h0M180.0 378.0h0M184.0 381.0h0M187.0 384.5h0M172.0 383.0h0" stroke="#c8002c" stroke-width="2.30" stroke-linecap="round" fill="none"/>
<path d="M98.0 308.4h0M110.6 336.9h0M108.8 343.8h0M96.7 351.4h0M91.7 362.1h0M45.0 375.5h0" stroke="#1c2238" stroke-width="2.40" stroke-linecap="round" fill="none"/>
<path d="M185.2 222.4h0M185.1 305.0h0M220.9 317.7h0M182.8 329.8h0M200.9 355.0h0M196.9 373.8h0M162.9 354.4h0" stroke="#6e1430" stroke-width="2.40" stroke-linecap="round" fill="none"/>
<line x1="36.00" y1="213.75" x2="36.00" y2="407.70" stroke="#222" stroke-width="1.9"/>
<line x1="35.05" y1="406.80" x2="239.80" y2="406.80" stroke="#222" stroke-width="1.9"/>
<line x1="32.30" y1="398.30" x2="36.00" y2="398.30" stroke="#222" stroke-width="1.2"/>
<text x="28.60" y="400.80" font-size="7.2" fill="#3a3a3a" text-anchor="end">0</text>
<line x1="32.30" y1="348.70" x2="36.00" y2="348.70" stroke="#222" stroke-width="1.2"/>
<text x="28.60" y="351.20" font-size="7.2" fill="#3a3a3a" text-anchor="end">20</text>
<line x1="32.30" y1="299.10" x2="36.00" y2="299.10" stroke="#222" stroke-width="1.2"/>
<text x="28.60" y="301.60" font-size="7.2" fill="#3a3a3a" text-anchor="end">40</text>
<line x1="32.30" y1="249.50" x2="36.00" y2="249.50" stroke="#222" stroke-width="1.2"/>
<text x="28.60" y="252.00" font-size="7.2" fill="#3a3a3a" text-anchor="end">60</text>
<line x1="41.50" y1="406.80" x2="41.50" y2="410.30" stroke="#222" stroke-width="1.1"/>
<text x="41.50" y="419.50" font-size="7.2" fill="#3a3a3a" text-anchor="middle">−5.0</text>
<line x1="93.00" y1="406.80" x2="93.00" y2="410.30" stroke="#222" stroke-width="1.1"/>
<text x="93.00" y="419.50" font-size="7.2" fill="#3a3a3a" text-anchor="middle">−2.5</text>
<line x1="144.50" y1="406.80" x2="144.50" y2="410.30" stroke="#222" stroke-width="1.1"/>
<text x="144.50" y="419.50" font-size="7.2" fill="#3a3a3a" text-anchor="middle">0.0</text>
<line x1="196.00" y1="406.80" x2="196.00" y2="410.30" stroke="#222" stroke-width="1.1"/>
<text x="196.00" y="419.50" font-size="7.2" fill="#3a3a3a" text-anchor="middle">2.5</text>
<text x="93.00" y="433.60" font-size="9.6" fill="#333" textLength="90.40" lengthAdjust="spacingAndGlyphs">Average fold change (log2)</text>
<text x="0" y="0" font-size="9.2" fill="#333" transform="translate(16.0 310.35) rotate(-90)" text-anchor="middle" textLength="57" lengthAdjust="spacingAndGlyphs"><tspan font-style="italic">P</tspan> value (−log10)</text>
<text x="171.25" y="230.00" font-size="6.4" fill="#333" textLength="16.75" lengthAdjust="spacingAndGlyphs">FKBP5</text>
<text x="181.60" y="302.50" font-size="6.4" fill="#333" textLength="17.80" lengthAdjust="spacingAndGlyphs">NNMT</text>
<text x="207.60" y="324.70" font-size="6.4" fill="#333" textLength="16.80" lengthAdjust="spacingAndGlyphs">PNMT</text>
<text x="178.50" y="326.90" font-size="6.4" fill="#333" textLength="18.20" lengthAdjust="spacingAndGlyphs">TEAD1</text>
<text x="86.25" y="315.50" font-size="6.4" fill="#333" textLength="12.50" lengthAdjust="spacingAndGlyphs">FEZ1</text>
<text x="104.40" y="332.50" font-size="6.4" fill="#333" textLength="15.00" lengthAdjust="spacingAndGlyphs">GBP4</text>
<text x="96.25" y="340.60" font-size="6.4" fill="#333" textLength="11.00" lengthAdjust="spacingAndGlyphs">IL32</text>
<text x="111.90" y="343.60" font-size="6.4" fill="#333" textLength="16.00" lengthAdjust="spacingAndGlyphs">WARS</text>
<text x="125.00" y="335.60" font-size="6.4" fill="#333" textLength="16.25" lengthAdjust="spacingAndGlyphs">STAT1</text>
<text x="133.75" y="347.50" font-size="6.4" fill="#333" textLength="14.35" lengthAdjust="spacingAndGlyphs">LAP3</text>
<text x="77.25" y="348.75" font-size="6.4" fill="#333" textLength="21.50" lengthAdjust="spacingAndGlyphs">CXCL10</text>
<text x="104.40" y="351.90" font-size="6.4" fill="#333" textLength="11.10" lengthAdjust="spacingAndGlyphs">NMU</text>
<text x="78.50" y="356.25" font-size="6.4" fill="#333" textLength="14.60" lengthAdjust="spacingAndGlyphs">GBP5</text>
<text x="121.25" y="355.00" font-size="6.4" fill="#333" textLength="7.50" lengthAdjust="spacingAndGlyphs">RF1</text>
<text x="135.60" y="355.40" font-size="6.4" fill="#333" textLength="18.15" lengthAdjust="spacingAndGlyphs">PSME2</text>
<text x="98.10" y="361.90" font-size="6.4" fill="#333" textLength="13.80" lengthAdjust="spacingAndGlyphs">GBP1</text>
<text x="125.60" y="363.10" font-size="6.4" fill="#333" textLength="11.90" lengthAdjust="spacingAndGlyphs">CYP</text>
<text x="138.00" y="363.10" font-size="6.4" fill="#333" textLength="19.00" lengthAdjust="spacingAndGlyphs">PSMA9</text>
<text x="75.00" y="369.40" font-size="6.4" fill="#333" textLength="15.00" lengthAdjust="spacingAndGlyphs">CD74</text>
<text x="91.00" y="372.50" font-size="6.4" fill="#333" textLength="17.10" lengthAdjust="spacingAndGlyphs">IL18BP</text>
<text x="114.40" y="370.00" font-size="6.4" fill="#333" textLength="16.20" lengthAdjust="spacingAndGlyphs">OPTN</text>
<text x="138.00" y="373.00" font-size="6.4" fill="#333" textLength="10.00" lengthAdjust="spacingAndGlyphs">SNX</text>
<text x="159.40" y="349.10" font-size="6.4" fill="#333" textLength="11.20" lengthAdjust="spacingAndGlyphs">FAH</text>
<text x="176.90" y="350.60" font-size="6.4" fill="#333" textLength="14.35" lengthAdjust="spacingAndGlyphs">CD24</text>
<text x="166.90" y="358.75" font-size="6.4" fill="#333" textLength="18.10" lengthAdjust="spacingAndGlyphs">SMIM1</text>
<text x="198.10" y="352.50" font-size="6.4" fill="#333" textLength="13.80" lengthAdjust="spacingAndGlyphs">PER1</text>
<text x="156.90" y="364.40" font-size="6.4" fill="#333" textLength="7.85" lengthAdjust="spacingAndGlyphs">PL9</text>
<text x="175.00" y="370.00" font-size="6.4" fill="#333" textLength="15.60" lengthAdjust="spacingAndGlyphs">FOXO1</text>
<text x="191.25" y="370.00" font-size="6.4" fill="#333" textLength="13.15" lengthAdjust="spacingAndGlyphs">KLF9</text>
<text x="161.25" y="372.75" font-size="6.4" fill="#333" textLength="11.85" lengthAdjust="spacingAndGlyphs">GAS5</text>
<polyline points="100.2,347.2 108.1,355.0" fill="none" stroke="#222" stroke-width="1.0"/>
<polyline points="111.2,368.8 118.8,362.2" fill="none" stroke="#222" stroke-width="1.0"/>
<polyline points="133.1,337.2 130.0,342.5 131.9,349.4 132.8,351.9" fill="none" stroke="#222" stroke-width="1.0"/>
<polyline points="116.2,350.6 127.5,358.8 123.0,363.8" fill="none" stroke="#222" stroke-width="1.0"/>
<polyline points="175.6,350.0 171.2,360.6 165.6,365.6" fill="none" stroke="#222" stroke-width="1.0"/>
<polyline points="177.5,364.0 189.4,368.5" fill="none" stroke="#222" stroke-width="1.0"/>
<polyline points="162.0,367.7 175.0,368.8" fill="none" stroke="#222" stroke-width="1.0"/>
<text x="303.75" y="202.30" font-size="7.1" fill="#333" textLength="83.75" lengthAdjust="spacingAndGlyphs">Higher in K562-NK-DMSO</text>
<text x="414.25" y="202.30" font-size="7.1" fill="#333" textLength="90.75" lengthAdjust="spacingAndGlyphs">Higher in Dasatinib-K562-NK</text>
<line x1="388.75" y1="208.80" x2="339.70" y2="208.80" stroke="#707070" stroke-width="1.8"/>
<path d="M336.20 208.80L340.40 206.90L340.40 210.70Z" fill="#111"/>
<line x1="418.25" y1="208.80" x2="467.80" y2="208.80" stroke="#707070" stroke-width="1.8"/>
<path d="M471.30 208.80L467.10 206.90L467.10 210.70Z" fill="#111"/>
<path d="M368.0 397.3L452.0 397.3L452.0 399.7L368.0 399.7Z" fill="#c6c6c8"/>
<path d="M453.4 399.3h0M387.8 397.4h0M392.4 398.5h0M398.5 397.5h0M417.7 397.7h0M430.3 398.3h0M418.4 398.9h0M411.3 398.2h0M377.5 398.1h0M407.4 397.3h0M415.5 398.8h0M383.9 398.7h0M428.7 399.0h0M406.5 398.1h0M383.6 398.0h0M397.1 397.4h0M378.6 398.6h0M415.2 398.3h0M402.1 397.6h0M400.1 398.0h0M415.3 397.5h0M397.9 397.4h0M425.6 398.6h0M413.9 399.2h0M400.7 397.9h0M426.8 397.9h0M414.4 397.8h0M385.1 397.5h0M416.6 399.2h0M379.4 397.8h0M367.0 398.6h0M397.4 399.5h0M437.0 397.3h0M406.2 399.1h0M412.2 398.8h0M445.7 399.5h0M404.1 398.5h0M443.2 398.0h0M407.5 399.5h0M400.6 397.4h0M419.2 398.3h0M425.3 399.5h0M454.0 397.7h0M429.5 397.6h0M424.9 398.5h0M415.9 398.2h0M395.9 399.4h0M392.8 399.3h0M416.2 399.2h0M434.1 398.2h0M391.3 398.9h0M423.7 397.8h0M384.9 397.9h0M381.0 398.5h0M428.5 398.5h0M414.4 398.7h0M401.5 398.0h0M374.6 397.8h0M396.2 399.5h0M432.6 398.5h0M422.2 397.8h0M389.1 398.3h0M401.6 398.9h0M429.5 399.1h0M410.5 397.5h0M419.1 398.8h0M400.0 397.6h0M390.1 397.4h0M416.6 398.9h0M379.7 398.5h0M413.8 398.5h0M393.4 399.4h0M407.3 397.4h0M438.5 398.4h0M382.1 399.1h0M397.4 397.9h0M385.8 398.0h0M400.1 399.5h0M423.8 398.0h0M394.1 399.2h0M423.5 398.3h0M395.5 397.9h0M404.9 397.4h0M413.2 399.2h0M425.3 398.4h0M427.1 397.5h0M424.3 398.6h0M373.0 397.8h0M424.1 399.2h0M410.9 398.7h0M445.0 397.9h0M419.6 398.1h0M433.1 397.4h0M440.4 399.0h0M386.1 397.9h0M428.4 397.4h0M435.1 397.6h0M395.2 399.5h0M420.8 397.2h0M403.3 398.7h0M430.8 398.3h0M434.9 398.9h0M378.9 399.2h0M395.4 398.6h0M395.1 397.5h0M400.3 397.4h0M418.5 398.2h0M399.4 398.0h0M392.0 399.3h0M393.1 398.2h0M391.2 399.0h0M432.1 399.4h0M394.2 399.6h0M448.6 399.6h0M423.5 399.1h0M424.2 399.2h0M429.4 398.9h0M414.9 399.0h0M396.6 398.2h0M407.0 397.3h0M401.5 399.2h0M429.3 398.6h0M397.1 398.0h0M417.7 398.8h0M398.4 399.2h0M414.1 398.6h0M434.3 398.7h0M405.0 398.2h0M375.2 399.6h0M381.8 398.8h0M403.5 399.2h0M413.1 398.1h0M404.9 397.3h0M414.6 398.1h0M442.4 398.9h0M404.8 398.8h0M408.3 398.6h0M422.0 397.4h0M389.5 398.5h0M397.4 397.5h0M430.6 397.5h0M419.3 398.7h0M399.8 399.0h0M435.9 398.7h0M397.0 398.0h0M407.4 399.5h0M408.1 398.4h0M426.2 398.5h0M414.2 399.5h0M393.8 397.3h0M416.5 399.4h0M384.9 397.6h0M391.9 398.8h0M365.0 397.5h0M384.8 397.5h0M413.8 397.4h0M402.8 399.1h0M400.6 398.7h0M394.1 398.6h0M408.8 399.6h0M385.3 397.7h0M377.5 399.0h0M409.1 399.2h0M402.4 397.6h0M411.4 398.8h0M417.0 397.5h0M410.2 399.1h0M410.0 399.0h0M386.4 399.1h0M399.0 398.7h0M432.9 398.0h0M437.4 398.6h0M366.8 398.2h0M406.6 399.2h0M425.5 398.8h0M418.7 398.7h0M416.8 399.1h0M398.1 399.1h0M416.8 398.6h0M418.6 399.5h0M394.0 398.4h0M396.1 399.1h0M385.4 398.6h0M406.5 399.4h0M421.9 397.8h0M373.7 398.6h0M424.1 399.5h0M381.5 399.4h0M426.6 398.1h0M427.1 397.7h0M409.7 399.0h0M422.3 398.1h0M418.8 399.3h0M398.6 398.5h0M413.0 397.8h0M436.0 399.6h0M416.4 399.1h0M409.0 398.5h0M398.5 398.7h0M411.2 397.3h0M388.3 399.4h0M406.8 398.3h0M442.6 399.1h0M405.4 398.2h0M417.5 398.4h0M415.4 398.8h0M390.4 398.1h0M408.7 399.3h0M397.7 399.5h0M449.1 399.1h0M415.9 398.9h0M435.6 399.1h0M430.1 398.7h0M399.0 398.7h0M419.9 397.9h0M404.9 398.5h0M403.0 398.7h0M389.8 399.5h0M390.8 398.2h0M408.2 398.2h0M383.0 398.0h0M411.7 398.0h0M412.4 397.9h0M430.1 398.0h0M421.3 399.4h0M415.6 399.2h0M381.0 397.9h0M430.4 397.7h0M428.3 399.6h0M372.9 397.8h0M428.9 397.4h0M388.5 397.8h0M388.0 399.4h0M440.1 399.6h0M404.9 399.6h0M429.3 399.0h0M436.0 399.0h0M396.6 398.6h0M431.2 399.2h0M428.4 398.0h0M416.2 399.1h0M415.3 397.5h0M414.8 397.5h0M373.2 398.1h0M425.9 397.4h0M401.3 398.6h0M394.2 399.0h0M378.7 398.7h0M418.9 399.2h0M413.3 399.0h0M367.1 397.9h0M375.6 399.1h0M409.0 399.0h0M430.6 398.5h0M378.9 398.7h0M431.9 398.9h0M416.2 399.4h0M422.5 397.8h0M392.5 399.3h0M402.8 397.3h0M399.1 399.3h0M401.5 399.6h0M405.5 398.6h0M412.0 397.8h0M373.8 398.5h0M422.9 398.2h0M434.3 399.1h0M420.1 398.1h0M419.0 397.2h0M367.3 399.3h0M438.4 397.6h0M417.0 397.8h0M397.6 398.7h0M406.3 397.4h0M422.9 397.6h0M425.6 397.3h0M451.2 398.5h0M417.5 397.2h0M441.0 398.1h0M409.6 398.2h0M405.4 398.0h0M382.0 397.4h0M412.8 399.3h0M405.7 397.5h0M444.1 397.4h0M412.9 397.8h0M417.9 397.5h0M443.5 398.5h0M430.2 398.4h0M373.6 397.3h0M408.1 397.3h0M408.8 398.4h0M407.9 398.7h0M410.4 398.2h0M409.4 398.0h0M405.5 399.0h0M407.5 399.5h0M381.7 399.2h0M401.1 399.2h0M419.8 397.4h0M389.0 399.1h0M427.3 398.0h0M384.2 399.5h0M397.6 399.1h0M397.9 397.7h0M412.5 397.3h0M453.3 399.3h0M389.2 398.9h0M425.7 399.4h0M411.7 398.4h0M418.7 397.7h0M401.4 397.4h0M414.4 398.6h0M424.9 398.1h0M415.0 397.4h0M424.7 397.3h0M369.5 399.1h0M424.5 397.3h0M438.9 399.0h0M424.1 397.6h0M403.6 398.0h0M432.2 397.6h0M383.2 399.4h0M406.6 399.5h0M427.6 397.3h0M437.1 397.7h0M395.8 397.7h0M406.7 398.1h0M366.7 398.6h0M421.3 398.5h0M407.5 399.1h0M397.3 399.0h0M418.6 398.5h0M389.9 397.4h0M382.2 399.5h0M417.4 399.4h0M392.1 399.3h0M438.5 399.5h0M402.4 399.3h0M393.8 397.2h0M389.8 399.3h0M400.9 398.7h0M413.7 397.3h0M421.5 399.0h0M414.0 397.7h0M391.1 398.5h0M418.2 398.0h0M433.0 398.0h0M404.5 398.0h0M395.9 398.6h0M420.7 397.9h0M405.9 397.9h0M400.8 399.2h0M431.2 397.6h0M405.9 398.6h0M389.1 398.4h0M400.0 398.7h0M402.4 398.2h0M415.7 398.2h0M383.7 399.6h0M411.4 397.5h0M413.0 398.9h0M437.3 397.4h0M427.8 397.9h0M407.1 398.2h0M407.2 399.6h0M407.2 399.4h0M390.3 398.6h0M416.9 398.1h0M393.0 398.9h0M412.1 397.6h0M379.4 398.2h0M404.0 397.5h0M423.2 399.0h0M421.8 397.2h0M424.5 398.9h0M404.3 399.5h0M404.3 399.6h0M410.0 398.9h0M373.8 397.3h0M407.9 397.3h0M424.5 398.7h0M394.1 399.0h0M399.7 397.8h0M408.1 397.8h0M419.7 399.2h0M377.4 399.3h0M412.0 398.8h0M376.4 397.4h0M450.1 398.2h0M432.7 398.0h0M390.0 399.2h0" stroke="#c6c6c8" stroke-width="1.80" stroke-linecap="round" fill="none"/>
<path d="M368.0 397.8L374.0 397.5L381.0 394.5L390.0 389.5L393.8 385.5L395.1 379.5L396.3 373.5L396.9 367.5L397.5 361.5L398.1 352.5L398.8 342.5L399.4 335.5L406.0 321.5L414.1 335.5L415.0 342.5L415.6 352.5L416.2 361.5L417.0 373.5L418.0 385.5L419.0 397.5L419.0 397.8Z" fill="#0f4b87"/>
<path d="M402.6 340.0h0M408.1 291.3h0M412.3 321.9h0M409.2 310.1h0M401.8 331.9h0M407.8 301.8h0M404.6 327.4h0M403.9 283.6h0M409.3 318.1h0M406.6 318.2h0M406.7 317.9h0M406.8 303.3h0M407.9 282.0h0M406.5 321.0h0M408.8 315.0h0M405.6 323.0h0M400.4 322.0h0M399.4 332.9h0M405.9 322.7h0M402.6 318.4h0M403.0 338.8h0M403.6 307.9h0M398.3 339.6h0M405.2 278.3h0M412.8 320.7h0M410.9 316.6h0M404.9 323.3h0M402.1 289.2h0M405.5 301.3h0M411.1 325.6h0M402.7 307.9h0M411.0 334.6h0M400.5 326.1h0M399.9 321.0h0M406.1 339.7h0M404.1 333.3h0M403.9 307.0h0M402.1 338.4h0M400.8 314.7h0M413.4 335.1h0M408.6 319.3h0M408.0 338.3h0M402.5 342.1h0M403.9 302.7h0M402.3 333.2h0M414.9 339.7h0M415.0 338.9h0M404.3 314.0h0M412.0 325.7h0M405.8 319.8h0M404.8 330.5h0M404.1 330.0h0M401.0 329.8h0M400.5 337.0h0M399.9 332.1h0M412.6 331.6h0M408.4 310.3h0M403.5 340.6h0M405.4 313.9h0M402.7 341.8h0M413.5 336.1h0M403.3 306.5h0M410.4 330.5h0M409.2 305.4h0M405.9 333.4h0M401.0 300.9h0M409.8 289.9h0M407.9 299.8h0M405.1 300.8h0M412.1 334.6h0M400.1 327.9h0M401.4 304.1h0M404.8 319.9h0M413.1 322.6h0M407.3 339.3h0M406.2 324.2h0M403.4 322.3h0M412.8 326.9h0M408.8 309.2h0M409.8 319.5h0M406.3 318.3h0M410.5 302.8h0M408.2 311.5h0M405.1 321.0h0M404.2 338.7h0M412.0 303.0h0M411.4 333.3h0M399.5 342.4h0M401.8 335.9h0M405.9 308.0h0M408.3 305.9h0M409.1 328.0h0M401.3 320.1h0M403.8 335.2h0M410.8 325.8h0M410.9 313.2h0M411.9 298.9h0M403.2 332.9h0M405.5 337.6h0M410.9 304.1h0M402.9 310.4h0M407.5 308.9h0M404.8 302.4h0M413.7 340.2h0M401.1 334.3h0M403.9 313.3h0M400.5 311.8h0M403.4 308.6h0M404.3 320.2h0M409.4 284.1h0M409.8 316.3h0M404.4 306.4h0M402.4 330.5h0M406.7 321.0h0M400.8 322.3h0M398.7 337.4h0M408.6 338.2h0M410.8 324.4h0M405.6 297.6h0M399.9 332.6h0M400.5 341.5h0M401.9 321.9h0M410.5 312.3h0M402.0 316.0h0M406.1 332.5h0M406.0 298.9h0M403.8 300.2h0M405.6 325.0h0M405.2 308.7h0M404.3 326.3h0M409.8 332.9h0M402.2 299.2h0M402.4 310.4h0M408.4 341.6h0M406.1 322.4h0M412.3 310.4h0M404.0 331.9h0M408.6 319.9h0M410.3 341.1h0M406.9 318.7h0M403.9 315.6h0M409.7 308.6h0M401.0 332.4h0M400.6 331.2h0M409.3 325.9h0M398.6 340.0h0M402.1 327.4h0M413.8 335.3h0M398.4 338.8h0M404.6 339.6h0M403.3 284.7h0M412.2 336.0h0M409.8 301.2h0M402.8 327.8h0M406.7 317.3h0M406.2 295.8h0M407.0 270.4h0M406.3 331.0h0M407.0 315.4h0M410.4 318.5h0M408.0 306.8h0M403.7 319.6h0M400.3 311.6h0M411.7 318.5h0M405.5 295.1h0M403.1 322.1h0M405.9 330.3h0M399.3 336.1h0M412.8 329.4h0M411.2 290.0h0M412.6 337.9h0M408.8 303.3h0M402.7 333.5h0M407.1 330.5h0M400.1 330.2h0M401.8 304.7h0M411.5 334.5h0M405.1 263.2h0M406.9 314.7h0M400.6 322.2h0M406.7 306.3h0M410.6 335.6h0M406.6 336.7h0M411.9 325.2h0M404.7 315.3h0M413.1 337.2h0M407.9 306.3h0M404.9 298.1h0M413.5 335.1h0M406.4 339.4h0M410.5 320.2h0M398.4 336.0h0M411.0 295.9h0M402.3 327.6h0M401.1 327.5h0M409.1 319.4h0M406.1 312.6h0M411.6 295.3h0M409.5 330.3h0M403.3 331.6h0M401.2 342.3h0M404.0 329.4h0M412.0 302.8h0M404.2 321.3h0M412.7 332.1h0M406.5 311.2h0M410.2 338.1h0M409.4 300.4h0M408.0 315.6h0M409.4 320.4h0M406.4 317.3h0M406.6 325.9h0M400.5 321.8h0M400.4 323.4h0M404.5 334.9h0M413.5 331.2h0M410.7 285.2h0M408.2 301.2h0M399.2 327.2h0M408.5 314.1h0M413.8 335.5h0M404.5 303.6h0M408.1 339.2h0M411.6 337.9h0M399.1 329.1h0M410.4 295.5h0M410.7 302.6h0M406.2 310.2h0M406.7 333.1h0M406.2 336.2h0M400.5 312.3h0M407.4 332.0h0M399.3 337.4h0M410.2 328.4h0M412.5 310.0h0M405.5 336.7h0M406.9 283.7h0M409.3 330.5h0M412.8 329.7h0M402.2 322.3h0M412.1 330.5h0M403.6 339.5h0M401.9 282.3h0M404.0 314.8h0M415.3 342.2h0M409.6 262.8h0M405.0 340.9h0M407.4 309.8h0M408.2 318.6h0M401.1 339.3h0M401.3 299.0h0M414.0 341.2h0M402.1 335.2h0M409.3 319.2h0M404.1 328.0h0M402.1 335.6h0M403.2 323.5h0M413.8 334.9h0M408.1 326.2h0M401.9 335.4h0M402.4 327.2h0M407.6 319.9h0M400.7 336.6h0M403.5 314.4h0M414.5 338.5h0M401.5 316.5h0M406.7 318.6h0M403.4 338.3h0M408.3 299.5h0M403.3 311.3h0M407.4 320.5h0M404.6 321.7h0M406.6 340.7h0M402.8 300.5h0M411.2 320.5h0M412.9 330.9h0M401.8 332.2h0M413.5 335.6h0M400.8 319.5h0M406.4 318.5h0M406.5 291.1h0M407.6 266.5h0M401.5 329.7h0M409.0 324.9h0M407.8 308.1h0M401.6 329.2h0M403.6 322.1h0M409.9 316.9h0M410.0 314.6h0M410.1 313.8h0M406.6 298.8h0M406.0 306.9h0M401.8 336.7h0M405.5 314.3h0M412.4 323.7h0M409.6 323.3h0M404.7 309.5h0M404.6 322.5h0M404.8 309.1h0M408.8 314.7h0M405.8 314.4h0M408.3 316.0h0M403.9 290.5h0M402.0 320.9h0M408.1 340.5h0M403.3 337.8h0M401.2 312.0h0M398.8 340.3h0M402.4 311.3h0M410.1 272.1h0M406.6 334.3h0M400.0 325.9h0M402.6 289.3h0M407.2 313.3h0M402.7 307.5h0M408.5 341.6h0M401.3 314.6h0M400.7 302.9h0M405.2 324.7h0M406.7 319.6h0M411.8 336.5h0M415.0 341.7h0M403.0 333.8h0M408.6 317.7h0M407.8 302.1h0M402.6 335.5h0M408.0 303.3h0M408.9 337.6h0M406.6 325.6h0M408.2 340.5h0M402.8 326.2h0M407.1 316.4h0M405.9 335.1h0M402.6 318.5h0M405.4 260.2h0M411.9 315.0h0M403.3 311.9h0M409.0 332.0h0M413.4 328.2h0M407.9 315.4h0M400.3 340.1h0M400.9 324.5h0M404.6 332.7h0M406.0 329.1h0M408.0 325.6h0M411.9 330.3h0M410.2 314.0h0M400.9 300.6h0M402.6 326.3h0M405.7 335.7h0M408.3 333.9h0M406.6 320.2h0M410.5 304.8h0M402.1 341.1h0M403.9 315.6h0M411.9 318.5h0M406.3 316.6h0M400.9 308.9h0M406.2 313.7h0M405.2 320.6h0M408.6 313.0h0M407.0 341.6h0M405.2 341.3h0M410.9 328.3h0M401.7 327.7h0M413.8 340.9h0M406.2 314.1h0M403.5 330.1h0M411.0 324.2h0M409.4 318.7h0M399.4 341.9h0M408.5 290.0h0M407.3 311.2h0M408.4 280.2h0M409.7 285.5h0M405.5 303.9h0M411.1 316.9h0M407.1 330.4h0M412.8 316.4h0M406.3 340.2h0M400.9 319.9h0M401.3 335.6h0M409.0 285.1h0M401.1 310.1h0M405.2 332.9h0M410.9 311.0h0M401.7 298.5h0M410.7 321.7h0M396.4 369.1h0M387.6 389.8h0M369.5 359.5h0M372.3 392.7h0M379.7 395.3h0M391.3 387.1h0M390.8 376.0h0M380.2 351.1h0M379.0 382.4h0M381.9 377.8h0M369.3 391.3h0M369.6 361.6h0M364.5 396.9h0M367.4 367.7h0M379.9 387.7h0M389.7 343.6h0M389.6 360.6h0M388.7 361.4h0M396.4 377.7h0M372.9 358.8h0M391.7 354.0h0M392.5 369.8h0M387.9 349.2h0M390.7 376.9h0M394.1 364.4h0M346.6 396.7h0M395.9 350.6h0M390.6 385.1h0M386.6 391.3h0M385.6 366.9h0M394.5 333.1h0M375.7 379.6h0M362.9 397.2h0M393.5 370.3h0M394.1 352.5h0M389.7 374.6h0M397.0 373.0h0M392.9 368.2h0M394.9 368.4h0M376.0 361.0h0M390.3 382.5h0M385.3 390.8h0M394.9 381.7h0M373.0 380.2h0M372.5 392.4h0M375.2 388.2h0M363.1 392.2h0M361.3 381.3h0M377.6 395.5h0M380.2 384.6h0M393.4 363.2h0M385.4 391.5h0M378.2 367.6h0M354.0 393.6h0M386.4 360.4h0M382.1 393.3h0M384.3 384.9h0M392.0 351.0h0M393.5 377.8h0M376.0 366.2h0M389.6 374.2h0M378.5 337.3h0M383.4 375.2h0M372.7 387.0h0M389.3 346.8h0M388.2 381.7h0M381.8 386.8h0M392.9 382.4h0M380.5 372.5h0M374.9 383.9h0M368.1 393.3h0M368.3 395.9h0M379.3 334.5h0M378.2 377.8h0M388.4 370.8h0M391.5 388.4h0M380.8 384.7h0M385.5 332.0h0M386.6 391.8h0M364.7 396.3h0M377.8 396.3h0M387.8 358.3h0M384.2 382.4h0M374.0 394.4h0M387.2 391.2h0M375.0 369.3h0M370.0 369.7h0M362.9 390.5h0M395.4 352.0h0M374.9 370.9h0M383.0 380.1h0M380.8 392.1h0M375.9 394.9h0M392.4 352.5h0M392.1 354.9h0M388.6 366.6h0M393.1 384.0h0M385.1 387.6h0M373.5 392.0h0M380.2 386.2h0M377.7 382.2h0M382.1 389.7h0M377.9 387.2h0M378.3 394.7h0M395.5 377.4h0M393.6 378.6h0M375.8 372.1h0M398.8 306.9h0M381.9 348.3h0M390.4 373.8h0M391.4 375.2h0M377.9 389.8h0M396.1 353.0h0M385.6 380.6h0M391.4 374.9h0M365.3 395.8h0M393.7 352.7h0M385.4 342.0h0M389.0 367.2h0M386.5 390.0h0M384.9 361.9h0M383.2 379.0h0M390.3 332.8h0M389.9 377.5h0M383.0 393.5h0M389.0 374.4h0M382.6 363.9h0M385.0 375.2h0M385.6 388.6h0M374.3 391.3h0M386.8 330.6h0M377.1 387.8h0M384.6 350.1h0M387.1 337.5h0M384.1 382.9h0M389.9 389.5h0M388.7 370.1h0M380.3 339.4h0M378.4 336.0h0M377.0 393.0h0M381.0 391.2h0M390.3 355.4h0M382.2 367.4h0M390.2 355.1h0M377.9 379.9h0M385.0 345.1h0M378.3 388.9h0M386.2 389.1h0M388.2 381.0h0M393.8 381.8h0M396.1 331.3h0M377.8 379.8h0M390.0 368.1h0M372.9 396.0h0M376.2 385.2h0M385.8 370.0h0M387.8 347.9h0M390.3 341.7h0M363.0 395.1h0M358.0 366.4h0M377.9 378.9h0M385.4 386.9h0M392.6 343.9h0M371.3 395.3h0M376.4 382.9h0M390.1 340.3h0M395.5 376.9h0M366.7 394.5h0M371.3 395.6h0M367.4 397.4h0M382.7 375.7h0M389.7 382.1h0M379.3 391.1h0M372.5 397.3h0M380.3 391.1h0M394.6 361.8h0M359.7 397.2h0M384.4 390.9h0M389.2 388.3h0M373.8 360.0h0M372.1 396.5h0M385.5 392.4h0M390.4 383.0h0M383.8 351.1h0M379.7 345.3h0M382.7 390.4h0M381.3 385.6h0M367.1 383.3h0M371.6 371.9h0M385.5 391.1h0M395.0 372.1h0M390.0 347.4h0M388.5 387.9h0M392.6 360.4h0M368.3 395.3h0M365.0 386.4h0M394.7 383.2h0M394.9 382.3h0M349.1 396.8h0M398.2 352.1h0M391.1 374.3h0M394.1 343.2h0M381.3 390.0h0M385.2 383.2h0M386.4 391.8h0M377.3 376.7h0M371.5 365.4h0M386.5 383.1h0M359.8 394.8h0M356.9 392.3h0M390.7 356.6h0M381.9 391.4h0M386.6 386.4h0M384.9 324.2h0M393.3 362.6h0M389.9 382.1h0M394.0 385.8h0M393.0 371.3h0M389.3 362.5h0M375.3 386.7h0M396.1 308.9h0M387.8 369.7h0M365.5 357.9h0M398.1 359.9h0M356.0 375.5h0M380.8 393.2h0M386.0 388.1h0M389.9 389.3h0M393.8 366.2h0M364.3 397.1h0M357.8 374.7h0M386.6 342.5h0M392.6 363.6h0M392.6 358.8h0M390.3 384.5h0M388.2 382.9h0M370.8 397.2h0M370.7 390.1h0M396.9 319.3h0M382.8 384.5h0M379.3 383.6h0M371.5 392.7h0M386.6 384.3h0M392.0 334.8h0M377.6 373.2h0M398.2 361.0h0M389.2 357.3h0M371.3 391.7h0M349.4 377.6h0M371.6 387.4h0M390.3 369.5h0M381.0 350.3h0M379.1 392.8h0M365.9 386.1h0M393.1 349.3h0M384.0 384.0h0M389.3 386.4h0M370.0 381.8h0M391.2 361.2h0M397.8 340.4h0M391.2 378.3h0M369.9 344.6h0M398.6 347.4h0M372.3 377.2h0M372.5 391.7h0M402.1 304.4h0M365.1 395.9h0M391.7 318.6h0M392.3 369.8h0M387.6 377.8h0M388.4 377.3h0M387.1 370.0h0M394.6 326.4h0M384.4 376.3h0M397.8 340.9h0M385.9 375.3h0M383.1 359.9h0M385.0 380.5h0M387.6 385.7h0M395.7 347.4h0M381.7 374.8h0M395.4 368.1h0M373.7 395.2h0M382.7 349.6h0M376.9 366.0h0M352.4 396.8h0M377.5 389.7h0M373.9 396.7h0M388.2 376.9h0M395.2 374.8h0M363.0 372.3h0M394.6 376.0h0M376.4 358.2h0M398.3 355.1h0M371.8 368.9h0M395.2 357.1h0M386.8 386.7h0M394.7 374.3h0M394.3 375.8h0M389.3 378.1h0M391.9 376.2h0M391.5 374.0h0M388.4 357.6h0M389.2 368.0h0M395.1 379.4h0M391.8 382.7h0M393.6 374.9h0M398.3 350.2h0M379.8 386.4h0M370.6 396.4h0M378.4 393.2h0M398.0 342.4h0M394.9 355.1h0M377.0 392.7h0M392.4 372.5h0M398.3 340.7h0M390.1 381.6h0M387.0 375.7h0M386.6 370.9h0M389.6 376.1h0M379.5 394.1h0M367.4 393.2h0M398.1 347.0h0M363.3 397.5h0M368.4 378.5h0M400.1 327.1h0M371.0 393.8h0M392.8 382.9h0M377.7 393.2h0M395.4 365.1h0M375.0 342.7h0M385.1 349.4h0M388.0 374.5h0M395.6 344.8h0M368.1 366.7h0M380.3 342.8h0M383.6 375.4h0M396.9 370.7h0M392.7 362.4h0M387.3 381.2h0M396.6 365.8h0M370.2 397.5h0M393.5 351.5h0M378.4 351.6h0M387.5 387.7h0M393.0 341.7h0M379.5 393.1h0M381.2 389.1h0M382.8 372.4h0M366.2 382.9h0M389.8 357.6h0M381.4 376.6h0M363.2 397.1h0M382.2 380.3h0M381.8 379.7h0M396.7 330.3h0M371.8 354.4h0M372.2 386.8h0M391.2 377.4h0M382.3 367.7h0M395.4 374.2h0M391.8 378.2h0M362.0 396.2h0M380.0 375.5h0M370.7 381.5h0M374.6 378.7h0M382.0 361.7h0M388.4 386.0h0M382.6 359.7h0M363.1 371.7h0M386.7 350.9h0M400.4 320.7h0M398.4 357.9h0M396.7 364.8h0M380.5 394.6h0M394.1 385.2h0M381.8 330.7h0M375.2 391.1h0M373.6 396.4h0M385.0 374.1h0M392.2 384.5h0M377.3 378.1h0M396.5 370.2h0M390.4 351.1h0M358.7 397.4h0M390.0 361.1h0M391.3 344.1h0M389.0 378.1h0M382.0 366.9h0M363.4 395.8h0M390.8 365.1h0M386.7 371.2h0M374.7 392.8h0M367.8 392.3h0M385.5 371.3h0M376.1 361.9h0M391.8 386.1h0M388.8 384.5h0M384.1 386.0h0M377.3 373.6h0M394.4 333.5h0M386.0 372.7h0M393.2 377.8h0M378.5 394.5h0M361.7 395.8h0M388.6 339.6h0M376.1 393.4h0M391.6 374.6h0M387.0 353.8h0M381.2 383.2h0M391.2 371.8h0M384.0 390.5h0M355.5 395.6h0M377.7 390.3h0M396.3 375.2h0M394.5 385.1h0M389.3 349.5h0M395.3 367.1h0M386.3 386.8h0M383.7 377.0h0M383.9 372.3h0M368.9 383.4h0M390.0 384.6h0M387.2 387.5h0M398.1 362.6h0M358.6 373.4h0M378.2 388.6h0M385.2 363.5h0M389.4 364.9h0M390.3 375.1h0M384.7 363.6h0M376.7 355.0h0M380.1 387.3h0M388.0 388.0h0M390.3 387.4h0M373.3 394.5h0M385.7 371.9h0M357.7 396.5h0M379.5 388.8h0M371.4 340.3h0M313.9 393.8h0M335.8 357.7h0M333.5 365.4h0M350.8 355.8h0M362.0 325.4h0M372.3 310.6h0M382.9 308.7h0M373.3 335.6h0M350.2 362.5h0M362.1 361.5h0M349.2 373.0h0M344.4 395.6h0M341.0 362.0h0M346.0 351.0h0M357.0 333.0h0M351.0 377.0h0M346.0 386.0h0M340.0 380.0h0M365.0 348.0h0M384.0 300.0h0M388.0 290.0h0M391.0 296.0h0M395.0 280.0h0M386.0 285.0h0M380.0 300.0h0M392.0 272.0h0M360.0 250.6h0M378.1 250.0h0M376.9 253.1h0M376.2 260.0h0M386.0 249.5h0M389.0 249.5h0M393.0 249.5h0M397.0 249.5h0M401.0 249.5h0M405.0 249.5h0M409.0 249.5h0M393.0 253.0h0M398.0 253.0h0M403.0 253.0h0M405.0 257.0h0M399.0 257.0h0M394.0 261.0h0M401.0 262.0h0M404.0 266.0h0M409.0 270.0h0M406.0 274.0h0" stroke="#0f4b87" stroke-width="2.10" stroke-linecap="round" fill="none"/>
<path d="M420.4 397.8L420.4 372.0L425.0 375.0L430.0 379.5L436.0 384.5L442.0 390.0L449.0 397.8Z" fill="#c8002c"/>
<path d="M424.5 384.9h0M440.4 355.7h0M436.0 324.0h0M430.1 397.2h0M477.2 394.2h0M421.2 331.3h0M449.4 343.6h0M442.2 387.6h0M424.5 396.2h0M431.4 368.2h0M426.6 381.9h0M425.5 372.5h0M423.8 376.2h0M429.0 358.9h0M438.7 347.6h0M430.5 335.8h0M428.2 368.3h0M439.4 332.4h0M439.9 385.5h0M475.1 378.0h0M442.7 319.1h0M422.7 393.8h0M431.1 332.9h0M458.5 372.3h0M425.6 389.3h0M423.5 377.8h0M432.6 330.1h0M423.4 384.2h0M428.6 376.2h0M453.5 379.6h0M443.0 388.1h0M439.6 342.7h0M425.1 393.4h0M453.6 391.2h0M421.2 340.3h0M452.7 368.8h0M443.1 384.0h0M439.3 396.1h0M428.4 352.1h0M429.8 354.4h0M471.5 362.3h0M421.0 362.4h0M426.4 384.4h0M421.8 386.9h0M438.1 374.1h0M463.1 368.8h0M438.5 314.4h0M423.3 391.8h0M434.9 367.0h0M453.8 364.0h0M451.1 372.9h0M423.2 375.0h0M455.7 386.9h0M428.5 391.7h0M444.8 376.8h0M442.4 381.4h0M478.3 390.8h0M421.4 353.3h0M423.6 394.8h0M438.1 383.6h0M423.0 388.0h0M429.2 353.8h0M434.3 347.7h0M443.8 355.2h0M424.1 330.1h0M448.9 356.4h0M421.6 330.0h0M430.3 361.0h0M436.8 382.8h0M431.5 388.3h0M422.5 390.9h0M438.3 396.1h0M429.5 391.7h0M431.6 358.4h0M435.4 381.3h0M445.0 380.2h0M424.6 388.9h0M446.2 397.3h0M424.3 391.5h0M424.3 389.2h0M424.9 362.9h0M431.0 395.6h0M460.9 396.0h0M439.0 379.3h0M432.0 376.0h0M429.6 387.7h0M438.6 381.5h0M425.3 378.9h0M430.3 367.6h0M421.2 371.7h0M443.5 395.2h0M428.1 363.2h0M451.0 360.2h0M443.5 387.3h0M428.9 372.7h0M425.5 384.6h0M440.8 296.9h0M422.9 368.7h0M425.0 373.0h0M426.2 339.2h0M484.0 376.9h0M422.1 341.1h0M427.2 389.4h0M428.5 309.4h0M432.1 378.4h0M464.0 396.5h0M441.5 376.5h0M432.9 386.5h0M446.3 344.1h0M432.9 371.8h0M429.8 393.4h0M432.8 377.4h0M427.1 371.1h0M444.4 367.5h0M471.9 378.6h0M451.9 363.9h0M457.1 364.1h0M451.4 366.3h0M426.8 391.4h0M464.1 397.3h0M431.0 353.0h0M426.5 365.9h0M426.7 365.1h0M438.1 342.3h0M443.3 388.9h0M427.3 394.7h0M446.3 396.0h0M458.2 325.4h0M436.8 396.5h0M424.5 341.0h0M456.0 394.1h0M437.2 360.7h0M438.2 394.3h0M423.1 361.9h0M421.1 364.4h0M439.8 391.6h0M422.8 385.2h0M427.1 363.9h0M440.5 387.0h0M439.0 384.6h0M439.2 369.4h0M427.6 359.4h0M435.6 336.9h0M434.2 378.8h0M432.9 332.7h0M451.9 373.5h0M425.9 341.7h0M432.7 374.0h0M438.8 368.0h0M461.4 366.5h0M452.5 394.3h0M430.9 369.0h0M427.3 389.9h0M422.3 336.7h0M431.0 360.0h0M440.6 379.6h0M471.3 394.7h0M427.6 396.0h0M445.7 391.3h0M436.3 355.6h0M435.0 385.4h0M442.6 390.1h0M440.0 371.5h0M444.6 389.8h0M433.0 385.2h0M432.5 330.6h0M459.8 358.6h0M429.7 374.0h0M427.4 326.6h0M426.6 385.1h0M437.4 389.6h0M436.9 389.8h0M455.2 342.9h0M450.3 363.4h0M427.6 364.6h0M428.4 387.3h0M441.8 354.6h0M432.2 396.3h0M454.3 376.6h0M453.2 386.3h0M430.5 366.6h0M432.2 381.3h0M423.8 350.9h0M453.6 353.5h0M427.5 391.5h0M430.6 395.4h0M423.3 381.9h0M447.0 376.0h0M456.9 353.0h0M427.5 359.2h0M428.4 324.6h0M445.0 368.1h0M456.1 370.3h0M433.1 366.5h0M440.5 334.2h0M429.4 322.2h0M436.2 396.4h0M447.6 389.3h0M421.9 389.1h0M425.6 370.8h0M423.0 314.3h0M450.6 375.4h0M431.3 348.0h0M459.7 389.4h0M436.9 392.5h0M421.2 377.0h0M435.0 325.0h0M434.3 376.0h0M432.3 388.2h0M449.5 355.0h0M427.8 367.6h0M445.7 394.5h0M423.3 381.1h0M433.9 383.9h0M429.8 374.7h0M425.1 397.0h0M466.8 381.1h0M448.3 346.4h0M425.4 359.1h0M425.3 377.2h0M440.2 348.6h0M458.6 370.6h0M449.3 356.0h0M448.9 395.7h0M444.7 363.4h0M429.6 391.0h0M441.2 387.2h0M441.4 394.7h0M441.7 374.9h0M424.6 397.0h0M422.2 370.4h0M430.0 360.2h0M428.8 393.4h0M434.3 347.9h0M439.9 350.0h0M422.8 389.2h0M449.9 379.3h0M430.0 356.7h0M422.0 383.6h0M439.8 393.6h0M438.3 328.4h0M426.2 390.1h0M441.9 363.7h0M435.9 372.7h0M443.5 352.6h0M439.1 397.2h0M431.3 381.9h0M435.8 360.7h0M430.6 333.0h0M425.2 362.6h0M439.1 362.2h0M428.9 350.9h0M439.5 362.6h0M433.7 321.2h0M425.7 323.2h0M455.1 368.4h0M452.7 396.7h0M434.9 371.3h0M425.3 367.1h0M424.0 388.1h0M448.5 364.6h0M436.2 352.1h0M433.9 358.7h0M436.8 362.8h0M422.8 378.1h0M443.3 352.5h0M434.8 368.8h0M428.4 387.1h0M443.1 367.6h0M432.8 369.0h0M433.1 369.2h0M487.3 389.8h0M459.6 384.2h0M437.0 353.4h0M423.8 324.6h0M422.7 390.9h0M425.2 387.3h0M429.2 380.0h0M430.3 389.6h0M449.0 379.0h0M444.9 386.0h0M445.8 375.5h0M471.0 370.8h0M436.0 330.6h0M448.3 360.0h0M465.5 353.1h0M421.2 381.3h0M440.6 397.3h0M452.5 384.3h0M475.0 397.1h0M421.8 383.9h0M427.8 343.5h0M427.1 394.7h0M450.9 378.6h0M429.9 320.2h0M423.9 366.3h0M444.1 395.3h0M425.2 374.1h0M439.7 361.8h0M461.9 340.0h0M427.5 379.0h0M425.6 385.3h0M427.1 387.6h0M450.9 349.6h0M452.7 383.5h0M455.7 355.0h0M455.4 394.5h0M423.0 371.6h0M443.2 376.4h0M430.4 335.6h0M436.1 360.3h0M421.8 377.0h0M424.1 391.3h0M424.6 386.8h0M428.8 391.5h0M423.5 342.4h0M443.1 376.7h0M422.7 377.3h0M430.9 358.5h0M440.0 383.6h0M434.5 376.3h0M444.9 373.9h0M422.9 315.5h0M442.9 368.5h0M432.7 391.4h0M422.9 381.4h0M422.6 362.7h0M425.5 337.9h0M449.7 388.6h0M451.5 377.1h0M422.2 363.9h0M424.2 346.4h0M429.2 385.1h0M462.3 368.6h0M438.3 380.3h0M442.4 332.6h0M440.4 372.9h0M437.9 356.5h0M445.0 343.8h0M466.2 394.1h0M441.7 358.9h0M439.8 394.3h0M434.5 369.7h0M446.8 348.3h0M435.6 374.7h0M447.4 393.9h0M463.8 397.1h0M438.4 368.4h0M450.8 391.2h0M442.0 359.4h0M424.1 365.3h0M430.9 358.1h0M450.2 388.0h0M453.2 365.7h0M423.3 358.6h0M464.1 372.4h0M426.8 390.8h0M434.8 375.8h0M430.2 340.2h0M460.6 358.0h0M431.7 367.7h0M434.6 355.1h0M425.3 394.2h0M430.3 376.0h0M450.7 334.8h0M430.0 357.1h0M450.1 351.5h0M423.2 375.6h0M427.1 375.9h0M425.8 396.2h0M427.4 395.4h0M421.2 381.9h0M443.3 383.4h0M421.9 385.7h0M425.3 380.3h0M437.8 391.6h0M445.5 382.1h0M423.6 355.0h0M423.6 360.0h0M454.9 394.0h0M439.5 382.5h0M425.6 395.2h0M451.8 397.1h0M427.3 390.8h0M467.5 391.9h0M431.3 341.4h0M438.0 378.4h0M433.3 374.9h0M473.8 368.2h0M441.7 351.0h0M440.5 393.5h0M440.4 378.5h0M432.7 369.6h0M429.5 383.4h0M451.7 395.3h0M441.9 353.0h0M441.1 372.8h0M428.0 392.5h0M434.1 315.8h0M443.6 384.3h0M421.9 390.2h0M441.4 365.7h0M447.8 375.3h0M439.5 358.7h0M431.6 380.0h0M433.5 367.0h0M421.5 389.0h0M452.5 357.5h0M430.6 393.8h0M423.1 389.7h0M446.3 386.7h0M421.7 386.1h0M437.1 388.8h0M433.6 396.2h0M432.4 350.7h0M429.6 395.3h0M474.5 376.2h0M440.3 381.6h0M428.4 391.7h0M436.8 381.7h0M422.5 346.7h0M437.0 343.4h0M424.0 382.8h0M433.2 366.5h0M426.2 383.6h0M426.6 348.3h0M432.9 304.8h0M429.1 392.4h0M445.1 390.1h0M430.5 366.5h0M441.8 388.6h0M441.4 356.7h0M442.3 385.9h0M428.6 352.9h0M437.2 376.0h0M435.7 386.8h0M427.0 372.0h0M424.7 354.9h0M426.2 350.0h0M442.4 362.3h0M427.5 353.5h0M432.7 362.5h0M440.2 396.1h0M440.4 336.8h0M430.5 364.9h0M428.1 384.9h0M435.0 316.2h0M425.1 366.6h0M440.7 394.7h0M426.8 367.8h0M422.5 350.2h0M459.6 388.2h0M426.3 396.1h0M422.4 361.1h0M440.9 376.3h0M431.4 355.7h0M438.5 380.5h0M424.1 379.8h0M421.3 378.2h0M423.7 379.8h0M423.1 335.8h0M426.4 361.3h0M424.2 366.9h0M441.9 397.3h0M447.3 358.5h0M453.0 354.8h0M422.5 369.9h0M425.6 365.9h0M445.7 354.5h0M426.8 371.2h0M454.8 337.6h0M439.0 328.4h0M454.8 360.2h0M423.3 339.4h0M450.8 394.7h0M421.8 374.0h0M423.6 379.6h0M423.3 358.8h0M468.8 393.6h0M436.2 360.0h0M455.0 379.8h0M426.5 386.6h0M426.2 379.2h0M449.1 371.4h0M436.8 356.6h0M433.4 368.7h0M450.6 378.0h0M476.1 373.8h0M439.0 339.7h0M464.6 359.7h0M451.3 340.6h0M454.5 370.6h0M437.2 357.4h0M434.1 388.7h0M468.8 382.8h0M429.6 386.4h0M440.6 371.5h0M433.5 372.5h0M438.0 349.8h0M426.8 387.7h0M426.4 361.3h0M434.9 393.7h0M439.5 350.4h0M453.3 391.8h0M433.6 336.2h0M437.6 344.7h0M435.9 395.7h0M430.3 360.0h0M451.1 392.3h0M455.0 346.2h0M469.2 339.9h0M430.4 387.1h0M448.6 367.2h0M435.0 382.8h0M462.8 388.1h0M438.8 396.6h0M471.5 394.7h0M432.2 391.9h0M424.2 343.6h0M441.8 363.8h0M424.2 307.4h0M423.5 330.4h0M430.0 384.0h0M446.8 380.7h0M428.2 322.9h0M428.6 353.3h0M434.7 385.9h0M442.2 357.2h0M433.5 358.9h0M433.9 381.5h0M425.5 389.1h0M429.1 318.2h0M430.5 379.4h0M439.6 377.6h0M448.6 356.7h0M444.9 367.9h0M428.5 378.4h0M425.3 392.4h0M430.9 385.3h0M422.0 310.3h0M427.1 371.2h0M472.4 372.1h0M450.2 397.1h0M426.2 360.7h0M453.7 376.3h0M442.8 390.2h0M442.2 332.7h0M442.9 375.4h0M432.1 390.4h0M430.0 344.8h0M426.9 376.7h0M427.4 380.4h0M435.5 381.4h0M433.0 391.5h0M432.4 367.0h0M435.5 368.1h0M423.3 369.6h0M440.3 370.8h0M428.2 391.4h0M452.5 364.3h0M433.7 372.2h0M421.8 369.7h0M425.0 389.1h0M439.3 393.7h0M434.9 386.8h0M442.3 397.2h0M434.0 379.9h0M465.0 388.0h0M423.5 377.3h0M464.2 394.5h0M453.4 359.6h0M457.2 317.2h0M421.0 352.0h0M459.3 349.8h0M449.7 373.0h0M441.3 362.5h0M444.4 393.5h0M427.0 338.9h0M442.3 334.9h0M453.4 342.9h0M433.6 375.6h0M442.0 376.6h0M426.2 360.8h0M437.9 366.3h0M433.2 377.5h0M438.7 378.1h0M424.2 332.0h0M425.8 391.1h0M434.0 345.4h0M424.3 366.9h0M427.7 374.3h0M431.8 350.0h0M434.1 386.9h0M455.3 359.2h0M436.5 396.3h0M422.8 364.3h0M423.1 383.2h0M427.6 386.9h0M430.4 329.3h0M443.3 331.1h0M421.9 362.2h0M443.6 346.0h0M445.1 382.5h0M431.8 356.3h0M430.2 370.7h0M450.0 387.0h0M431.3 364.8h0M423.8 361.0h0M428.8 364.6h0M468.6 392.0h0M454.6 353.1h0M426.9 362.2h0M422.7 350.0h0M433.7 356.1h0M426.7 386.3h0M423.9 352.5h0M433.9 387.6h0M425.9 370.9h0M431.7 376.8h0M450.8 367.2h0M429.6 367.9h0M448.6 373.4h0M453.8 359.1h0M470.7 367.8h0M452.8 352.5h0M443.0 368.6h0M426.4 368.1h0M424.5 340.8h0M464.2 374.9h0M440.8 382.1h0M422.0 315.5h0M423.6 389.4h0M439.6 358.0h0M423.9 390.2h0M435.4 349.9h0M439.2 382.0h0M440.0 383.1h0M426.6 367.7h0M437.4 375.9h0M422.2 392.5h0M426.7 383.0h0M435.7 381.6h0M443.5 379.0h0M429.2 365.0h0M456.0 396.9h0M439.2 374.2h0M429.7 383.4h0M464.6 384.0h0M449.9 369.8h0M433.3 382.1h0M438.6 368.5h0M433.1 388.0h0M429.3 377.7h0M443.7 393.7h0M441.6 388.4h0M448.0 395.5h0M436.7 367.2h0M443.7 397.0h0M429.8 380.7h0M428.2 378.1h0M432.1 366.2h0M422.9 361.3h0M428.5 391.4h0M444.8 395.5h0M433.6 389.5h0M422.9 377.1h0M424.7 349.9h0M429.9 371.5h0M429.0 386.7h0M456.5 396.8h0M450.1 390.8h0M428.9 355.8h0M429.8 394.2h0M439.3 380.8h0M437.4 370.4h0M437.8 372.8h0M439.6 383.2h0M431.6 374.5h0M439.3 394.5h0M424.0 355.0h0M427.9 371.0h0M428.5 392.4h0M446.0 394.5h0M438.5 372.8h0M426.2 377.2h0M425.2 375.0h0M426.1 376.7h0M421.4 372.5h0M454.2 396.9h0M426.8 394.4h0M437.9 381.1h0M427.9 369.9h0M444.4 383.0h0M422.9 385.1h0M439.0 375.2h0M431.9 393.4h0M438.8 389.9h0M444.8 390.2h0M431.6 393.3h0M439.7 371.6h0M438.9 373.8h0M424.9 349.4h0M441.7 397.5h0M427.1 370.9h0M424.8 366.3h0M426.0 368.9h0M436.4 364.7h0M424.3 391.8h0M421.7 358.6h0M432.0 372.9h0M450.6 395.7h0M429.1 373.4h0M424.3 364.1h0M440.2 380.5h0M432.9 381.5h0M449.5 385.2h0M423.2 390.9h0M428.0 370.2h0M436.6 377.0h0M427.2 395.4h0M441.0 390.3h0M427.5 397.0h0M434.6 393.5h0M429.1 366.7h0M423.4 392.0h0M435.0 395.7h0M437.7 385.4h0M438.9 395.4h0M451.5 396.0h0M445.2 388.7h0M451.5 393.9h0M425.1 380.9h0M441.3 393.4h0M443.2 383.8h0M437.6 393.4h0M430.4 363.6h0M427.7 356.6h0M445.2 390.6h0M432.1 380.2h0M440.4 389.8h0M424.1 378.0h0M424.5 356.6h0M425.3 389.6h0M424.3 375.4h0M423.4 372.8h0M427.3 380.0h0M435.0 384.4h0M423.4 393.4h0M423.5 360.4h0M430.2 361.7h0M436.6 387.5h0M445.4 386.4h0M441.3 395.3h0M431.8 378.2h0M432.6 368.3h0M428.7 351.5h0M446.3 391.1h0M426.4 388.1h0M439.1 368.0h0M432.5 366.1h0M425.0 352.7h0M444.7 386.1h0M441.5 384.7h0M423.0 368.5h0M421.3 377.7h0M430.8 387.4h0M429.7 389.9h0M443.4 395.2h0M431.4 370.0h0M434.6 361.8h0M444.5 392.7h0M433.4 385.3h0M437.1 367.7h0M426.8 356.0h0M435.7 378.4h0M434.0 385.7h0M450.3 396.5h0M425.9 389.1h0M440.0 374.8h0M435.6 381.5h0M422.9 390.0h0M427.3 389.8h0M430.5 376.8h0M438.9 384.3h0M442.4 393.1h0M430.8 395.3h0M428.9 363.9h0M443.6 394.3h0M439.4 382.0h0M423.6 359.2h0M423.3 386.6h0M431.8 380.8h0M427.8 369.3h0M434.7 364.2h0M438.8 384.8h0M440.8 389.6h0M426.4 397.1h0M431.7 362.6h0M428.6 368.1h0M442.8 396.0h0M428.9 389.8h0M448.0 383.7h0M423.1 364.8h0M421.2 388.8h0M436.7 376.5h0M429.2 363.7h0M434.9 379.7h0M444.8 397.0h0M440.2 371.7h0M430.7 391.2h0M449.0 384.6h0M428.5 368.6h0M436.3 391.4h0M431.3 383.0h0M432.7 382.6h0M432.5 380.2h0M439.2 393.4h0M421.3 369.0h0M437.7 395.2h0M439.2 386.2h0M435.3 383.0h0M427.5 391.6h0M429.6 391.4h0M432.1 371.7h0M451.7 391.4h0M449.4 385.5h0M424.2 385.3h0M439.0 375.1h0M429.6 379.8h0M439.1 380.9h0M438.6 386.1h0M424.8 386.0h0M428.6 358.5h0M438.6 387.6h0M425.7 385.0h0M444.0 381.5h0M422.8 355.9h0M437.5 393.1h0M429.6 372.8h0M427.8 387.7h0M450.4 393.2h0M424.9 356.9h0M427.2 390.9h0M438.8 396.9h0M438.9 390.8h0M421.0 373.0h0M432.0 382.8h0M434.7 382.2h0M437.3 386.1h0M427.0 390.0h0M435.3 367.3h0M439.7 371.1h0M421.8 375.1h0M446.9 386.2h0M433.2 385.8h0M424.3 355.1h0M423.5 376.0h0M444.6 391.6h0M445.8 381.8h0M421.3 359.2h0M441.0 373.2h0M431.8 384.5h0M437.8 386.1h0M430.2 382.3h0M425.6 357.1h0M421.7 394.0h0M434.5 371.4h0M429.5 377.3h0M431.6 380.3h0M422.9 392.3h0M453.3 394.0h0M427.4 367.9h0M441.8 380.0h0M448.3 387.7h0M427.6 390.6h0M428.7 352.7h0M425.6 377.3h0M434.8 386.9h0M432.4 397.2h0M438.2 387.7h0M426.0 348.1h0M423.8 384.7h0M431.9 396.3h0M438.5 370.2h0M421.2 356.3h0M443.6 380.5h0M440.3 379.6h0M429.3 382.7h0M436.5 395.2h0M442.8 396.4h0M428.0 365.3h0M433.1 384.1h0M427.1 381.6h0M433.8 372.5h0M422.9 378.9h0M427.1 358.4h0M446.6 381.0h0M422.4 374.0h0M423.8 370.3h0M444.1 391.0h0M425.7 384.2h0M421.7 364.5h0M423.3 342.2h0M424.4 359.4h0M422.8 353.7h0M425.4 311.5h0M422.2 313.7h0M422.3 325.8h0M423.2 326.3h0M422.5 360.8h0M421.7 329.8h0M423.8 347.8h0M422.8 311.5h0M423.5 321.7h0M423.3 315.0h0M422.4 311.4h0M422.5 359.4h0M424.2 329.8h0M421.7 345.7h0M422.9 320.8h0M422.4 343.4h0M422.3 364.1h0M421.8 314.1h0M422.8 365.1h0M422.4 320.9h0M422.0 342.1h0M422.5 349.9h0M422.5 316.1h0M422.5 323.6h0M422.6 322.5h0M423.6 356.7h0M424.6 304.2h0M421.8 334.3h0M424.0 340.0h0M423.6 329.0h0M422.5 342.4h0M423.1 320.0h0M424.7 358.0h0M421.5 302.1h0M423.9 304.4h0M422.1 363.4h0M422.3 355.6h0M423.7 328.6h0M422.2 335.4h0M422.0 356.9h0M421.6 310.7h0M422.6 317.4h0M421.6 342.6h0M423.4 349.1h0M423.5 299.0h0M422.5 303.2h0M421.9 359.6h0M424.4 335.3h0M425.4 305.9h0M423.2 326.7h0M422.2 339.2h0M422.9 344.0h0M423.9 312.4h0M421.6 302.5h0M423.2 343.4h0M424.9 331.3h0M429.2 275.3h0M438.6 271.6h0M425.9 281.7h0M429.9 295.9h0M425.9 304.6h0M436.0 299.9h0M423.0 288.0h0M432.0 262.0h0M424.0 258.0h0M496.3 327.7h0M468.6 314.7h0M481.6 350.2h0M479.9 346.7h0M475.6 370.9h0M479.9 383.9h0M475.6 329.4h0M487.0 325.0h0M484.0 311.0h0M478.0 292.0h0M472.0 285.0h0M466.0 280.0h0M458.0 271.0h0M452.0 265.0h0M446.0 268.0h0M440.0 262.0h0M475.8 265.4h0M478.9 250.0h0M446.2 252.3h0M455.0 249.5h0M463.0 249.5h0M450.0 249.5h0M434.6 265.4h0M440.0 257.0h0M448.0 255.0h0M455.0 259.0h0M430.0 275.0h0M436.0 283.0h0M426.0 290.0h0M433.0 296.0h0M444.0 300.0h0M451.0 292.0h0M460.0 305.0h0M428.0 262.0h0M424.0 270.0h0M456.0 318.0h0M445.0 312.0h0" stroke="#c8002c" stroke-width="2.10" stroke-linecap="round" fill="none"/>
<line x1="305.00" y1="215.00" x2="305.00" y2="409.00" stroke="#222" stroke-width="1.9"/>
<line x1="304.05" y1="408.10" x2="505.20" y2="408.10" stroke="#222" stroke-width="1.9"/>
<line x1="301.80" y1="399.40" x2="305.00" y2="399.40" stroke="#222" stroke-width="1.2"/>
<text x="298.40" y="401.90" font-size="7.2" fill="#3a3a3a" text-anchor="end">0</text>
<line x1="301.80" y1="351.90" x2="305.00" y2="351.90" stroke="#222" stroke-width="1.2"/>
<text x="298.40" y="354.40" font-size="7.2" fill="#3a3a3a" text-anchor="end">100</text>
<line x1="301.80" y1="304.40" x2="305.00" y2="304.40" stroke="#222" stroke-width="1.2"/>
<text x="298.40" y="306.90" font-size="7.2" fill="#3a3a3a" text-anchor="end">200</text>
<line x1="301.80" y1="256.90" x2="305.00" y2="256.90" stroke="#222" stroke-width="1.2"/>
<text x="298.40" y="259.40" font-size="7.2" fill="#3a3a3a" text-anchor="end">300</text>
<line x1="305.50" y1="408.10" x2="305.50" y2="410.90" stroke="#222" stroke-width="1.1"/>
<text x="305.50" y="420.60" font-size="7.2" fill="#3a3a3a" text-anchor="middle">−10</text>
<line x1="362.50" y1="408.10" x2="362.50" y2="410.90" stroke="#222" stroke-width="1.1"/>
<text x="362.50" y="420.60" font-size="7.2" fill="#3a3a3a" text-anchor="middle">−5</text>
<line x1="419.50" y1="408.10" x2="419.50" y2="410.90" stroke="#222" stroke-width="1.1"/>
<text x="419.50" y="420.60" font-size="7.2" fill="#3a3a3a" text-anchor="middle">0</text>
<line x1="476.50" y1="408.10" x2="476.50" y2="410.90" stroke="#222" stroke-width="1.1"/>
<text x="476.50" y="420.60" font-size="7.2" fill="#3a3a3a" text-anchor="middle">5</text>
<text x="360.00" y="433.75" font-size="9.6" fill="#333" textLength="90.20" lengthAdjust="spacingAndGlyphs">Average fold change (log2)</text>
<text x="0" y="0" font-size="9.2" fill="#333" transform="translate(281.7 311.25) rotate(-90)" text-anchor="middle" textLength="56.3" lengthAdjust="spacingAndGlyphs"><tspan font-style="italic">P</tspan> value (−log10)</text>
<text x="326.25" y="248.75" font-size="6.0" fill="#333" textLength="19.35" lengthAdjust="spacingAndGlyphs">PSMB9</text>
<text x="350.00" y="246.90" font-size="6.0" fill="#333" textLength="14.40" lengthAdjust="spacingAndGlyphs">WARS</text>
<text x="364.00" y="246.90" font-size="6.0" fill="#333" textLength="21.00" lengthAdjust="spacingAndGlyphs">PSMB2</text>
<text x="384.00" y="246.90" font-size="6.0" fill="#333" textLength="20.00" lengthAdjust="spacingAndGlyphs">PSMA4</text>
<text x="404.00" y="246.90" font-size="6.0" fill="#333" textLength="8.70" lengthAdjust="spacingAndGlyphs">A1</text>
<text x="361.25" y="239.10" font-size="6.0" fill="#333" textLength="21.85" lengthAdjust="spacingAndGlyphs">TMSB10</text>
<text x="345.60" y="256.90" font-size="6.0" fill="#333" textLength="11.90" lengthAdjust="spacingAndGlyphs">TAP1</text>
<text x="360.00" y="259.40" font-size="6.0" fill="#333" textLength="15.00" lengthAdjust="spacingAndGlyphs">STAT1</text>
<text x="363.10" y="267.50" font-size="6.0" fill="#333" textLength="20.00" lengthAdjust="spacingAndGlyphs">UBE2L6</text>
<text x="384.40" y="235.60" font-size="6.0" fill="#333" textLength="16.85" lengthAdjust="spacingAndGlyphs">ENO1</text>
<text x="396.90" y="231.90" font-size="6.0" fill="#333" textLength="19.35" lengthAdjust="spacingAndGlyphs">PRELID</text>
<text x="418.10" y="231.90" font-size="6.0" fill="#333" textLength="16.30" lengthAdjust="spacingAndGlyphs">POMP</text>
<text x="408.00" y="239.40" font-size="6.0" fill="#333" textLength="15.75" lengthAdjust="spacingAndGlyphs">RPSA</text>
<text x="428.00" y="239.40" font-size="6.0" fill="#333" textLength="14.00" lengthAdjust="spacingAndGlyphs">TESC</text>
<text x="409.40" y="251.60" font-size="6.0" fill="#333" textLength="19.30" lengthAdjust="spacingAndGlyphs">UBE2L3</text>
<text x="422.90" y="249.50" font-size="6.0" fill="#333" textLength="17.30" lengthAdjust="spacingAndGlyphs">BLVRB</text>
<text x="390.60" y="259.40" font-size="6.0" fill="#333" textLength="6.30" lengthAdjust="spacingAndGlyphs">E2F</text>
<text x="406.25" y="259.40" font-size="6.0" fill="#333" textLength="14.35" lengthAdjust="spacingAndGlyphs">NOL7</text>
<text x="388.10" y="266.90" font-size="6.0" fill="#333" textLength="13.80" lengthAdjust="spacingAndGlyphs">CYCS</text>
<text x="416.90" y="266.25" font-size="6.0" fill="#333" textLength="14.10" lengthAdjust="spacingAndGlyphs">SMIM1</text>
<text x="438.90" y="231.50" font-size="6.0" fill="#333" textLength="15.40" lengthAdjust="spacingAndGlyphs">GYPA</text>
<text x="462.30" y="231.50" font-size="6.0" fill="#333" textLength="17.70" lengthAdjust="spacingAndGlyphs">ALAS2</text>
<text x="454.60" y="239.70" font-size="6.0" fill="#333" textLength="17.20" lengthAdjust="spacingAndGlyphs">TLCD4</text>
<text x="481.50" y="239.70" font-size="6.0" fill="#333" textLength="15.40" lengthAdjust="spacingAndGlyphs">GYPB</text>
<text x="436.20" y="247.70" font-size="6.0" fill="#333" textLength="26.80" lengthAdjust="spacingAndGlyphs">SLC25A37</text>
<text x="466.90" y="247.70" font-size="6.0" fill="#333" textLength="12.30" lengthAdjust="spacingAndGlyphs">HBZ</text>
<text x="454.60" y="256.90" font-size="6.0" fill="#333" textLength="13.10" lengthAdjust="spacingAndGlyphs">HBA2</text>
<text x="432.30" y="258.50" font-size="6.0" fill="#333" textLength="14.60" lengthAdjust="spacingAndGlyphs">HBA1</text>
<text x="483.80" y="254.20" font-size="6.0" fill="#333" textLength="15.10" lengthAdjust="spacingAndGlyphs">AHSP</text>
<text x="460.00" y="262.30" font-size="6.0" fill="#333" textLength="21.50" lengthAdjust="spacingAndGlyphs">FAXDC2</text>
<polyline points="346.9,247.5 360.0,250.6" fill="none" stroke="#222" stroke-width="1.0"/>
<polyline points="368.8,246.2 375.0,250.6" fill="none" stroke="#222" stroke-width="1.0"/>
<polyline points="393.8,236.9 403.1,249.4" fill="none" stroke="#222" stroke-width="1.0"/>
<polyline points="408.8,233.1 403.1,249.4" fill="none" stroke="#222" stroke-width="1.0"/>
<polyline points="416.2,230.0 404.4,249.4" fill="none" stroke="#222" stroke-width="1.0"/>
<polyline points="385.6,238.8 393.1,249.4" fill="none" stroke="#222" stroke-width="1.0"/>
<polyline points="397.5,265.0 401.9,255.0" fill="none" stroke="#222" stroke-width="1.0"/>
<polyline points="385.6,265.0 389.4,253.1" fill="none" stroke="#222" stroke-width="1.0"/>
<polyline points="447.7,233.0 455.4,249.2" fill="none" stroke="#222" stroke-width="1.0"/>
<polyline points="444.6,238.5 450.0,249.2" fill="none" stroke="#222" stroke-width="1.0"/>
<polyline points="470.8,233.0 463.0,249.2" fill="none" stroke="#222" stroke-width="1.0"/>
<polyline points="480.8,237.7 463.8,249.2" fill="none" stroke="#222" stroke-width="1.0"/>
<polyline points="434.6,265.4 446.2,252.3" fill="none" stroke="#222" stroke-width="1.0"/>
<polyline points="376.9,253.1 376.2,260.0" fill="none" stroke="#222" stroke-width="1.0"/>
<text x="67.30" y="461.60" font-size="7.07" fill="#1a1a1a" textLength="161.50" lengthAdjust="spacingAndGlyphs">HALLMARK Dasatinib K562 NK vs K562 NK DMSO</text>
<text x="138.80" y="470.30" font-size="7.0" fill="#1a1a1a" textLength="18.30" lengthAdjust="spacingAndGlyphs">Down</text>
<text x="196.50" y="470.30" font-size="7.0" fill="#1a1a1a" textLength="9.30" lengthAdjust="spacingAndGlyphs">Up</text>
<text x="115.20" y="478.55" font-size="4.6" fill="#3a3a3a" text-anchor="end">HEME_METABOLISM</text>
<line x1="119.40" y1="476.90" x2="122.75" y2="476.90" stroke="#111" stroke-width="1.1"/>
<text x="115.20" y="485.20" font-size="4.6" fill="#3a3a3a" text-anchor="end">MYOGENESIS</text>
<line x1="119.40" y1="483.55" x2="122.75" y2="483.55" stroke="#111" stroke-width="1.1"/>
<text x="115.20" y="491.86" font-size="4.6" fill="#3a3a3a" text-anchor="end">INTERFERON_GAMMA_RESPONSE</text>
<line x1="119.40" y1="490.21" x2="122.75" y2="490.21" stroke="#111" stroke-width="1.1"/>
<text x="115.20" y="498.51" font-size="4.6" fill="#3a3a3a" text-anchor="end">E2F_TARGETS</text>
<line x1="119.40" y1="496.86" x2="122.75" y2="496.86" stroke="#111" stroke-width="1.1"/>
<text x="115.20" y="505.17" font-size="4.6" fill="#3a3a3a" text-anchor="end">MYC_TARGETS_V1</text>
<line x1="119.40" y1="503.52" x2="122.75" y2="503.52" stroke="#111" stroke-width="1.1"/>
<text x="115.20" y="511.82" font-size="4.6" fill="#3a3a3a" text-anchor="end">G2M_CHECKPOINT</text>
<line x1="119.40" y1="510.17" x2="122.75" y2="510.17" stroke="#111" stroke-width="1.1"/>
<text x="115.20" y="518.47" font-size="4.6" fill="#3a3a3a" text-anchor="end">TNFA_SIGNALING_VIA_NFKB</text>
<line x1="119.40" y1="516.82" x2="122.75" y2="516.82" stroke="#111" stroke-width="1.1"/>
<text x="115.20" y="525.13" font-size="4.6" fill="#3a3a3a" text-anchor="end">ALLOGRAFT_REJECTION</text>
<line x1="119.40" y1="523.48" x2="122.75" y2="523.48" stroke="#111" stroke-width="1.1"/>
<text x="115.20" y="531.78" font-size="4.6" fill="#3a3a3a" text-anchor="end">FATTY_ACID_METABOLISM</text>
<line x1="119.40" y1="530.13" x2="122.75" y2="530.13" stroke="#111" stroke-width="1.1"/>
<text x="115.20" y="538.44" font-size="4.6" fill="#3a3a3a" text-anchor="end">KRAS_SIGNALING_DN</text>
<line x1="119.40" y1="536.79" x2="122.75" y2="536.79" stroke="#111" stroke-width="1.1"/>
<text x="115.20" y="545.09" font-size="4.6" fill="#3a3a3a" text-anchor="end">BILE_ACID_METABOLISM</text>
<line x1="119.40" y1="543.44" x2="122.75" y2="543.44" stroke="#111" stroke-width="1.1"/>
<text x="115.20" y="551.74" font-size="4.6" fill="#3a3a3a" text-anchor="end">INTERFERON_ALPHA_RESPONSE</text>
<line x1="119.40" y1="550.09" x2="122.75" y2="550.09" stroke="#111" stroke-width="1.1"/>
<text x="115.20" y="558.40" font-size="4.6" fill="#3a3a3a" text-anchor="end">CHOLESTEROL_HOMEOSTASIS</text>
<line x1="119.40" y1="556.75" x2="122.75" y2="556.75" stroke="#111" stroke-width="1.1"/>
<text x="115.20" y="565.05" font-size="4.6" fill="#3a3a3a" text-anchor="end">MYC_TARGETS_V2</text>
<line x1="119.40" y1="563.40" x2="122.75" y2="563.40" stroke="#111" stroke-width="1.1"/>
<line x1="122.75" y1="473.10" x2="122.75" y2="567.55" stroke="#111" stroke-width="1.1"/>
<line x1="122.75" y1="567.00" x2="173.00" y2="567.00" stroke="#111" stroke-width="1.1"/>
<line x1="175.60" y1="567.00" x2="226.30" y2="567.00" stroke="#111" stroke-width="1.1"/>
<line x1="137.10" y1="567.00" x2="137.10" y2="569.80" stroke="#111" stroke-width="1.0"/>
<text x="137.10" y="579.50" font-size="6.9" fill="#3a3a3a" text-anchor="middle">0.05</text>
<line x1="156.90" y1="567.00" x2="156.90" y2="569.80" stroke="#111" stroke-width="1.0"/>
<text x="156.90" y="579.50" font-size="6.9" fill="#3a3a3a" text-anchor="middle">0.10</text>
<line x1="189.50" y1="567.00" x2="189.50" y2="569.80" stroke="#111" stroke-width="1.0"/>
<text x="189.50" y="579.50" font-size="6.9" fill="#3a3a3a" text-anchor="middle">0.05</text>
<line x1="209.40" y1="567.00" x2="209.40" y2="569.80" stroke="#111" stroke-width="1.0"/>
<text x="209.40" y="579.50" font-size="6.9" fill="#3a3a3a" text-anchor="middle">0.10</text>
<text x="157.60" y="593.20" font-size="9.6" fill="#333" textLength="33.60" lengthAdjust="spacingAndGlyphs">Gene ratio</text>
<text x="0" y="0" font-size="9.4" fill="#333" transform="translate(20.9 520.0) rotate(-90)" text-anchor="middle" textLength="68.5" lengthAdjust="spacingAndGlyphs">Reorder (description,</text>
<text x="0" y="0" font-size="9.4" fill="#333" transform="translate(31.9 520.0) rotate(-90)" text-anchor="middle" textLength="35.4" lengthAdjust="spacingAndGlyphs">gene ratio)</text>
<circle cx="141.20" cy="490.21" r="2.35" fill="#29a3dc" stroke="#1e7fae" stroke-width="0.4"/>
<circle cx="141.20" cy="496.86" r="2.35" fill="#29a3dc" stroke="#1e7fae" stroke-width="0.4"/>
<circle cx="141.20" cy="503.52" r="2.35" fill="#29a3dc" stroke="#1e7fae" stroke-width="0.4"/>
<circle cx="140.60" cy="510.17" r="2.30" fill="#29a3dc" stroke="#1e7fae" stroke-width="0.4"/>
<circle cx="139.75" cy="516.82" r="2.30" fill="#29a3dc" stroke="#1e7fae" stroke-width="0.4"/>
<circle cx="139.10" cy="523.48" r="2.30" fill="#29a3dc" stroke="#1e7fae" stroke-width="0.4"/>
<circle cx="130.00" cy="550.09" r="1.80" fill="#29a3dc" stroke="#1e7fae" stroke-width="0.4"/>
<circle cx="125.00" cy="563.40" r="1.05" fill="#3d7f86"/>
<circle cx="223.75" cy="476.90" r="2.25" fill="#c8106c" stroke="#8a0a48" stroke-width="0.5"/>
<circle cx="194.80" cy="483.55" r="1.50" fill="#c8106c" stroke="#8a0a48" stroke-width="0.5"/>
<circle cx="190.20" cy="530.13" r="1.50" fill="#c8106c" stroke="#8a0a48" stroke-width="0.5"/>
<circle cx="189.40" cy="536.79" r="1.50" fill="#c8106c" stroke="#8a0a48" stroke-width="0.5"/>
<circle cx="186.25" cy="543.44" r="1.40" fill="#c8106c" stroke="#8a0a48" stroke-width="0.5"/>
<circle cx="182.25" cy="556.75" r="0.75" fill="#b0306a"/>
<text x="233.10" y="489.75" font-size="7.3" fill="#1a1a1a" textLength="27.90" lengthAdjust="spacingAndGlyphs">direction</text>
<circle cx="236.50" cy="496.60" r="1.05" fill="#29a3dc"/>
<circle cx="236.50" cy="503.75" r="1.05" fill="#c0006a"/>
<text x="242.25" y="499.00" font-size="7.3" fill="#1a1a1a" textLength="18.35" lengthAdjust="spacingAndGlyphs">Down</text>
<text x="242.25" y="506.20" font-size="7.3" fill="#1a1a1a">Up</text>
<text x="233.10" y="521.25" font-size="7.3" fill="#1a1a1a" textLength="18.80" lengthAdjust="spacingAndGlyphs">Count</text>
<circle cx="236.50" cy="528.50" r="1.55" fill="#111"/>
<text x="242.00" y="530.80" font-size="7.2" fill="#1a1a1a">60</text>
<circle cx="236.50" cy="536.00" r="2.10" fill="#111"/>
<text x="242.00" y="538.30" font-size="7.2" fill="#1a1a1a">90</text>
<circle cx="236.50" cy="543.50" r="2.55" fill="#111"/>
<text x="242.00" y="545.80" font-size="7.2" fill="#1a1a1a">120</text>
<circle cx="236.50" cy="551.00" r="2.90" fill="#111"/>
<text x="242.00" y="553.30" font-size="7.2" fill="#1a1a1a">150</text>
<text x="308.75" y="461.50" font-size="7.07" fill="#1a1a1a" textLength="157.75" lengthAdjust="spacingAndGlyphs">HALLMARK Imatinib K562 NK vs K562 NK DMSO</text>
<text x="378.10" y="470.70" font-size="7.0" fill="#1a1a1a" textLength="18.80" lengthAdjust="spacingAndGlyphs">Down</text>
<text x="436.20" y="470.70" font-size="7.0" fill="#1a1a1a" textLength="9.20" lengthAdjust="spacingAndGlyphs">Up</text>
<text x="355.80" y="475.75" font-size="4.6" fill="#3a3a3a" text-anchor="end">MYC_TARGETS_V1</text>
<line x1="359.20" y1="474.10" x2="362.50" y2="474.10" stroke="#111" stroke-width="1.1"/>
<text x="355.80" y="481.73" font-size="4.6" fill="#3a3a3a" text-anchor="end">E2F_TARGETS</text>
<line x1="359.20" y1="480.08" x2="362.50" y2="480.08" stroke="#111" stroke-width="1.1"/>
<text x="355.80" y="487.71" font-size="4.6" fill="#3a3a3a" text-anchor="end">G2M_CHECKPOINT</text>
<line x1="359.20" y1="486.06" x2="362.50" y2="486.06" stroke="#111" stroke-width="1.1"/>
<text x="355.80" y="493.69" font-size="4.6" fill="#3a3a3a" text-anchor="end">MTORC1_SIGNALING</text>
<line x1="359.20" y1="492.04" x2="362.50" y2="492.04" stroke="#111" stroke-width="1.1"/>
<text x="355.80" y="499.67" font-size="4.6" fill="#3a3a3a" text-anchor="end">HEME_METABOLISM</text>
<line x1="359.20" y1="498.02" x2="362.50" y2="498.02" stroke="#111" stroke-width="1.1"/>
<text x="355.80" y="505.65" font-size="4.6" fill="#3a3a3a" text-anchor="end">OXIDATIVE_PHOSPHORYLATION</text>
<line x1="359.20" y1="504.00" x2="362.50" y2="504.00" stroke="#111" stroke-width="1.1"/>
<text x="355.80" y="511.63" font-size="4.6" fill="#3a3a3a" text-anchor="end">INTERFERON_GAMMA_RESPONSE</text>
<line x1="359.20" y1="509.98" x2="362.50" y2="509.98" stroke="#111" stroke-width="1.1"/>
<text x="355.80" y="517.61" font-size="4.6" fill="#3a3a3a" text-anchor="end">MYOGENESIS</text>
<line x1="359.20" y1="515.96" x2="362.50" y2="515.96" stroke="#111" stroke-width="1.1"/>
<text x="355.80" y="523.59" font-size="4.6" fill="#3a3a3a" text-anchor="end">KRAS_SIGNALING_DN</text>
<line x1="359.20" y1="521.94" x2="362.50" y2="521.94" stroke="#111" stroke-width="1.1"/>
<text x="355.80" y="529.57" font-size="4.6" fill="#3a3a3a" text-anchor="end">INFLAMMATORY_RESPONSE</text>
<line x1="359.20" y1="527.92" x2="362.50" y2="527.92" stroke="#111" stroke-width="1.1"/>
<text x="355.80" y="535.55" font-size="4.6" fill="#3a3a3a" text-anchor="end">DNA_REPAIR</text>
<line x1="359.20" y1="533.90" x2="362.50" y2="533.90" stroke="#111" stroke-width="1.1"/>
<text x="355.80" y="541.53" font-size="4.6" fill="#3a3a3a" text-anchor="end">UNFOLDED_PROTEIN_RESPONSE</text>
<line x1="359.20" y1="539.88" x2="362.50" y2="539.88" stroke="#111" stroke-width="1.1"/>
<text x="355.80" y="547.51" font-size="4.6" fill="#3a3a3a" text-anchor="end">COAGULATION</text>
<line x1="359.20" y1="545.86" x2="362.50" y2="545.86" stroke="#111" stroke-width="1.1"/>
<text x="355.80" y="553.49" font-size="4.6" fill="#3a3a3a" text-anchor="end">BILE_ACID_METABOLISM</text>
<line x1="359.20" y1="551.84" x2="362.50" y2="551.84" stroke="#111" stroke-width="1.1"/>
<text x="355.80" y="559.47" font-size="4.6" fill="#3a3a3a" text-anchor="end">INTERFERON_ALPHA_RESPONSE</text>
<line x1="359.20" y1="557.82" x2="362.50" y2="557.82" stroke="#111" stroke-width="1.1"/>
<text x="355.80" y="565.45" font-size="4.6" fill="#3a3a3a" text-anchor="end">MYC_TARGETS_V2</text>
<line x1="359.20" y1="563.80" x2="362.50" y2="563.80" stroke="#111" stroke-width="1.1"/>
<line x1="362.50" y1="470.60" x2="362.50" y2="567.75" stroke="#111" stroke-width="1.1"/>
<line x1="362.50" y1="567.20" x2="417.70" y2="567.20" stroke="#111" stroke-width="1.1"/>
<line x1="420.60" y1="567.20" x2="476.90" y2="567.20" stroke="#111" stroke-width="1.1"/>
<line x1="371.10" y1="567.20" x2="371.10" y2="570.00" stroke="#111" stroke-width="1.0"/>
<text x="374.10" y="578.20" font-size="6.8" fill="#333" text-anchor="end" transform="rotate(-45 374.10 578.20)">0.04</text>
<line x1="385.60" y1="567.20" x2="385.60" y2="570.00" stroke="#111" stroke-width="1.0"/>
<text x="388.60" y="578.20" font-size="6.8" fill="#333" text-anchor="end" transform="rotate(-45 388.60 578.20)">0.06</text>
<line x1="400.10" y1="567.20" x2="400.10" y2="570.00" stroke="#111" stroke-width="1.0"/>
<text x="403.10" y="578.20" font-size="6.8" fill="#333" text-anchor="end" transform="rotate(-45 403.10 578.20)">0.08</text>
<line x1="414.60" y1="567.20" x2="414.60" y2="570.00" stroke="#111" stroke-width="1.0"/>
<text x="417.60" y="578.20" font-size="6.8" fill="#333" text-anchor="end" transform="rotate(-45 417.60 578.20)">0.10</text>
<line x1="430.00" y1="567.20" x2="430.00" y2="570.00" stroke="#111" stroke-width="1.0"/>
<text x="433.00" y="578.20" font-size="6.8" fill="#333" text-anchor="end" transform="rotate(-45 433.00 578.20)">0.04</text>
<line x1="444.50" y1="567.20" x2="444.50" y2="570.00" stroke="#111" stroke-width="1.0"/>
<text x="447.50" y="578.20" font-size="6.8" fill="#333" text-anchor="end" transform="rotate(-45 447.50 578.20)">0.06</text>
<line x1="459.00" y1="567.20" x2="459.00" y2="570.00" stroke="#111" stroke-width="1.0"/>
<text x="462.00" y="578.20" font-size="6.8" fill="#333" text-anchor="end" transform="rotate(-45 462.00 578.20)">0.08</text>
<line x1="473.50" y1="567.20" x2="473.50" y2="570.00" stroke="#111" stroke-width="1.0"/>
<text x="476.50" y="578.20" font-size="6.8" fill="#333" text-anchor="end" transform="rotate(-45 476.50 578.20)">0.10</text>
<circle cx="415.45" cy="474.10" r="2.90" fill="#29a3dc" stroke="#1e7fae" stroke-width="0.4"/>
<circle cx="409.75" cy="480.08" r="2.75" fill="#29a3dc" stroke="#1e7fae" stroke-width="0.4"/>
<circle cx="404.60" cy="486.06" r="2.65" fill="#29a3dc" stroke="#1e7fae" stroke-width="0.4"/>
<circle cx="398.10" cy="492.04" r="2.55" fill="#29a3dc" stroke="#1e7fae" stroke-width="0.4"/>
<circle cx="396.40" cy="504.00" r="2.50" fill="#29a3dc" stroke="#1e7fae" stroke-width="0.4"/>
<circle cx="382.10" cy="533.90" r="1.85" fill="#29a3dc" stroke="#1e7fae" stroke-width="0.4"/>
<circle cx="375.40" cy="539.88" r="1.65" fill="#29a3dc" stroke="#1e7fae" stroke-width="0.4"/>
<circle cx="363.60" cy="563.80" r="0.95" fill="#3d7f86"/>
<circle cx="456.70" cy="498.02" r="2.85" fill="#e2007a" stroke="#a8005a" stroke-width="0.4"/>
<circle cx="446.40" cy="509.98" r="2.30" fill="#e2007a" stroke="#a8005a" stroke-width="0.4"/>
<circle cx="444.50" cy="515.96" r="2.25" fill="#e2007a" stroke="#a8005a" stroke-width="0.4"/>
<circle cx="442.25" cy="521.94" r="2.20" fill="#e2007a" stroke="#a8005a" stroke-width="0.4"/>
<circle cx="441.50" cy="527.92" r="2.20" fill="#e2007a" stroke="#a8005a" stroke-width="0.4"/>
<circle cx="428.50" cy="545.86" r="1.60" fill="#e2007a" stroke="#a8005a" stroke-width="0.4"/>
<circle cx="427.70" cy="551.84" r="1.60" fill="#e2007a" stroke="#a8005a" stroke-width="0.4"/>
<circle cx="427.10" cy="557.82" r="1.60" fill="#e2007a" stroke="#a8005a" stroke-width="0.4"/>
<text x="397.10" y="600.20" font-size="9.6" fill="#333" textLength="33.80" lengthAdjust="spacingAndGlyphs">Gene ratio</text>
<text x="484.60" y="483.30" font-size="7.3" fill="#1a1a1a" textLength="27.30" lengthAdjust="spacingAndGlyphs">direction</text>
<circle cx="488.00" cy="490.60" r="1.05" fill="#29a3dc"/>
<circle cx="488.00" cy="497.70" r="1.05" fill="#c0006a"/>
<text x="493.90" y="492.90" font-size="7.3" fill="#1a1a1a" textLength="18.00" lengthAdjust="spacingAndGlyphs">Down</text>
<text x="493.90" y="500.10" font-size="7.3" fill="#1a1a1a">Up</text>
<text x="484.60" y="516.50" font-size="7.3" fill="#1a1a1a" textLength="19.20" lengthAdjust="spacingAndGlyphs">Count</text>
<circle cx="488.00" cy="523.40" r="1.25" fill="#111"/>
<text x="494.20" y="525.60" font-size="7.2" fill="#1a1a1a">60</text>
<circle cx="488.00" cy="530.80" r="1.85" fill="#111"/>
<text x="494.20" y="533.00" font-size="7.2" fill="#1a1a1a">90</text>
<circle cx="488.00" cy="538.60" r="2.30" fill="#111"/>
<text x="494.20" y="540.80" font-size="7.2" fill="#1a1a1a">120</text>
<circle cx="488.00" cy="546.40" r="2.70" fill="#111"/>
<text x="494.20" y="548.60" font-size="7.2" fill="#1a1a1a">150</text>
<circle cx="488.00" cy="554.50" r="3.10" fill="#111"/>
<text x="494.20" y="556.70" font-size="7.2" fill="#1a1a1a">180</text>
<rect x="0.5" y="0.5" width="519" height="609" fill="none" stroke="#505050" stroke-width="1"/>
</svg></body></html>
